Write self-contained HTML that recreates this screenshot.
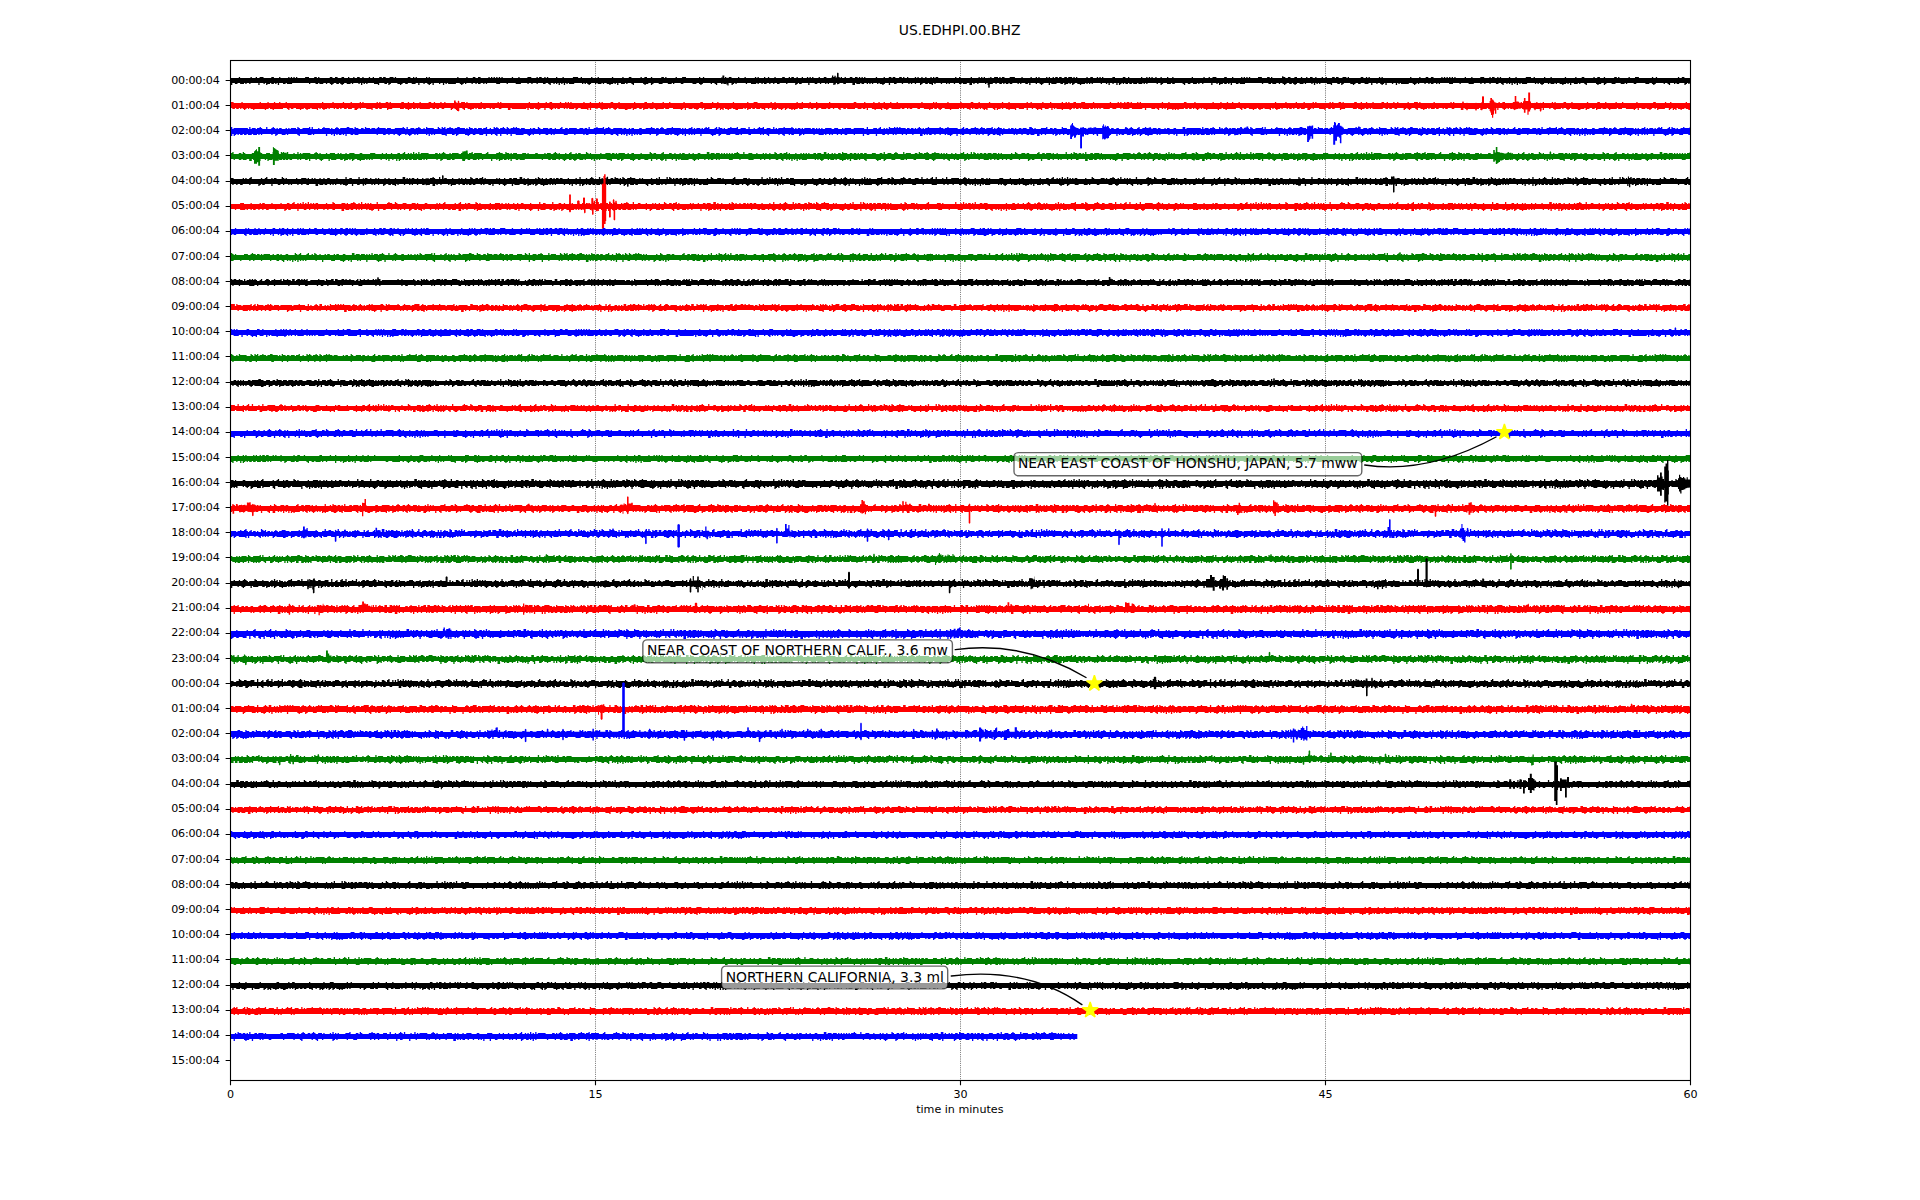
<!DOCTYPE html>
<html lang="en"><head><meta charset="utf-8"><title>US.EDHPI.00.BHZ</title>
<style>html,body{margin:0;padding:0;background:#fff}svg{display:block}text{font-family:'DejaVu Sans','Liberation Sans',sans-serif;fill:#000}.t8{font-size:11.11px}.t10{font-size:13.89px}path[class^=q]{fill:none;stroke-width:1}.q1{stroke-dasharray:2 21 1 4 1 23 1 8 1 28 2 12 1 31 1 8 1 5 1 11 1 5 1 5 1 21 1 5 1 1 1 31 1 17 1 20 1 5 1 8 1 40 1 7 1 14 1 12 1 7 1 8 1 13 1 7 1 2 1 7 1 13 1 67 1 6 1 3 1 18 1 15 1 5 1 11 1 8 1 4 1 37 1 11 1 11 1 48 1 9 1 33}.q2{stroke-dasharray:2 13 1 7 1 4 1 4 1 18 1 8 1 1 1 8 1 9 1 7 2 4 1 7 1 9 1 18 1 2 1 8 1 5 1 8 1 2 1 1 1 3 1 5 2 7 1 12 1 5 1 1 1 4 1 2 1 4 1 1 1 16 1 17 1 20 1 5 1 4 1 3 1 32 1 7 1 7 1 14 1 10 1 1 1 5 1 1 1 8 1 4 1 8 1 7 1 2 1 7 1 7 1 5 1 57 1 9 1 6 1 3 1 1 1 1 1 14 1 6 1 8 1 5 1 11 1 8 1 4 1 7 1 4 1 23 2 11 1 11 1 15 1 32 1 3 1 5 1 4 1 28}.q3{stroke-dasharray:2 6 1 6 1 3 1 3 1 4 1 4 1 18 1 8 1 1 1 8 1 9 1 7 2 4 1 7 1 9 1 4 1 13 1 2 1 8 1 5 1 8 1 2 1 1 1 3 2 4 3 6 1 12 1 5 1 1 1 2 1 1 2 1 1 4 1 1 1 16 1 4 1 11 2 6 1 13 1 5 1 4 1 3 1 4 1 27 1 7 1 7 1 5 1 6 1 1 1 10 1 1 1 4 2 1 1 8 2 3 1 3 1 4 1 6 2 2 1 4 1 2 1 7 1 4 3 1 1 10 1 12 1 1 1 21 1 6 1 5 1 2 2 6 1 3 1 1 1 1 1 9 1 4 1 6 1 1 1 6 2 4 1 11 1 7 2 4 1 7 1 4 1 10 1 12 2 7 1 3 1 11 1 10 1 4 3 10 1 2 1 16 1 3 1 5 1 4 1 9 1 18}.q4{stroke-dasharray:2 3 1 1 2 2 1 3 1 3 1 1 1 1 1 4 1 3 2 14 1 3 2 2 1 2 1 1 1 1 1 8 1 9 2 2 1 3 2 1 1 2 1 7 1 2 1 6 1 1 1 2 1 13 1 2 1 8 1 5 1 1 1 1 1 4 1 2 3 3 2 4 3 6 1 6 1 3 1 1 1 5 1 1 1 2 1 1 2 1 2 3 1 1 1 3 1 9 1 2 2 3 1 11 2 6 1 3 1 9 1 5 1 4 1 3 1 4 1 18 1 8 1 6 3 6 1 5 1 6 1 1 1 10 3 4 2 1 1 8 2 3 1 3 2 3 1 6 2 2 1 4 1 2 1 5 1 1 2 3 3 1 1 10 1 2 1 1 1 7 1 1 1 21 1 6 1 5 1 2 2 6 1 3 1 1 1 1 1 1 1 7 1 4 1 6 1 1 1 6 2 2 1 1 1 6 1 4 1 7 4 2 1 7 1 4 1 10 1 12 2 7 1 2 2 11 1 10 1 4 3 10 1 2 1 16 1 3 1 5 1 4 1 9 1 4 1 2 1 10}.q5{stroke-dasharray:2 3 1 1 2 2 1 3 1 3 1 1 1 1 1 4 1 3 2 4 1 4 1 1 1 2 1 3 2 2 2 1 1 1 1 1 1 8 1 5 1 3 2 1 2 3 2 1 1 2 1 5 1 1 1 2 1 2 1 3 1 1 1 1 2 13 1 2 1 8 1 5 1 1 1 1 1 4 1 2 3 1 1 1 2 4 4 5 1 6 1 3 1 1 1 5 1 1 1 2 1 1 2 1 2 2 2 1 3 1 1 1 1 7 1 2 2 3 1 1 1 1 1 7 2 6 2 2 1 9 1 3 1 1 1 1 1 2 1 3 1 4 1 3 1 14 1 8 1 3 1 2 3 6 2 4 1 6 1 1 1 1 1 1 1 6 3 4 2 1 1 8 2 2 2 3 2 3 1 3 1 2 2 2 1 4 1 2 1 4 2 1 2 3 3 1 1 9 2 2 1 1 1 7 1 1 1 21 1 6 1 4 2 2 2 6 1 1 1 1 1 1 1 1 1 1 1 7 1 4 1 6 3 4 1 1 2 2 1 1 1 6 1 4 1 7 4 2 1 7 1 4 1 10 1 7 1 4 2 7 1 2 2 3 1 7 2 1 1 7 1 4 3 10 1 2 1 16 1 2 2 5 1 4 1 7 1 1 1 4 1 2 1 4 1 5}.q6{stroke-dasharray:2 1 1 1 1 1 2 2 1 3 1 3 1 1 1 1 1 4 1 3 2 4 1 4 1 1 1 2 1 3 2 2 2 1 1 1 1 1 1 8 1 5 1 3 2 1 3 2 2 1 1 2 1 5 1 1 1 2 1 2 1 3 1 1 1 1 2 2 1 4 1 5 1 2 1 4 1 2 2 5 1 1 1 1 1 4 1 2 3 1 1 1 2 4 4 3 1 1 1 6 1 3 1 1 1 5 1 1 1 2 1 1 2 1 2 2 2 1 3 1 1 1 1 7 1 2 2 3 3 1 1 7 2 6 2 2 1 9 1 3 1 1 1 1 1 1 2 1 1 1 1 4 1 2 2 14 1 4 1 3 1 3 1 2 3 6 2 4 1 6 1 1 1 1 1 1 1 6 3 4 2 1 1 8 2 2 2 3 3 2 1 3 1 2 2 2 1 4 1 2 1 4 2 1 2 3 3 1 1 4 1 4 2 2 1 1 1 7 3 5 1 6 1 2 1 5 1 6 1 4 2 2 2 2 1 1 1 1 1 1 1 1 1 1 1 1 1 1 1 7 1 4 1 6 3 4 4 2 1 1 1 4 1 1 1 4 1 7 4 2 1 5 1 1 1 4 2 9 1 7 1 4 2 7 1 2 2 3 1 7 2 1 1 7 1 4 3 10 1 2 1 2 1 6 1 6 1 2 2 5 1 4 1 7 1 1 1 4 1 2 1 4 1 5}.q7{stroke-dasharray:2 1 1 1 1 1 2 2 1 3 1 3 1 1 4 3 1 3 2 4 1 4 1 1 1 2 1 3 2 2 2 1 3 1 1 8 1 1 1 3 1 3 2 1 3 2 2 1 1 2 1 5 1 1 2 1 1 2 1 2 2 1 1 1 2 1 2 4 1 5 1 2 1 4 1 2 3 4 1 1 1 1 2 3 2 1 3 1 1 1 2 2 6 3 1 1 1 6 1 3 1 1 1 5 1 1 2 1 1 1 2 1 2 1 3 1 3 1 1 1 1 7 1 2 2 3 3 1 1 7 2 6 3 1 1 9 1 3 1 1 1 1 1 1 2 1 1 1 1 3 2 1 3 14 1 4 2 2 1 3 1 2 3 3 1 1 3 2 1 1 1 6 1 1 1 1 1 1 1 5 4 4 2 1 2 5 4 2 2 3 3 2 1 3 1 2 2 2 1 4 1 2 1 3 6 3 3 1 1 4 1 4 2 2 1 1 1 7 3 5 1 6 1 1 2 5 1 6 1 4 2 2 2 2 1 1 1 1 1 1 1 1 1 1 1 1 1 1 2 6 1 4 2 5 3 1 1 2 4 2 1 1 1 2 1 1 1 1 1 4 1 7 4 2 2 4 3 4 3 1 1 5 2 7 1 1 1 2 2 7 1 2 2 3 1 1 2 4 2 1 1 7 1 3 4 1 1 2 1 1 1 3 1 2 1 2 2 5 1 6 1 2 2 5 1 4 2 2 1 3 1 1 1 4 1 2 1 4 1 5}.q8{stroke-dasharray:2 1 3 1 2 2 1 1 1 1 1 3 1 1 4 3 1 3 2 4 1 4 1 1 1 2 1 3 2 2 2 1 3 1 1 4 1 3 1 1 1 3 1 3 2 1 3 2 2 1 1 2 1 5 1 1 4 2 1 2 2 1 1 1 2 1 2 4 1 1 1 3 2 1 1 4 1 2 3 4 1 1 4 3 2 1 3 1 1 1 2 2 6 1 1 1 1 1 1 6 1 3 1 1 1 2 1 2 1 1 2 1 1 1 2 1 2 1 3 1 3 1 1 1 1 7 1 2 2 3 3 1 2 6 2 2 2 2 3 1 1 2 1 6 1 3 1 1 3 1 2 1 1 1 1 3 2 1 4 13 1 4 2 1 3 2 1 2 3 2 2 1 3 2 3 1 1 4 1 1 1 1 1 1 1 5 4 4 2 1 2 5 4 2 2 3 3 2 1 3 1 2 3 1 1 4 1 2 1 1 1 1 6 3 3 1 1 4 1 2 1 1 2 2 1 1 1 7 3 5 1 6 4 5 1 2 1 3 1 4 2 2 2 2 1 1 1 1 1 1 1 1 1 1 1 1 4 6 1 1 1 1 3 3 1 1 3 1 1 2 5 1 1 1 1 2 3 1 1 3 2 7 4 2 2 4 3 4 3 1 1 5 2 7 3 2 3 6 1 2 2 3 1 1 2 4 2 1 1 7 1 3 4 1 1 2 1 1 2 2 1 2 1 2 2 5 1 6 2 1 2 5 1 4 2 2 1 3 1 1 1 4 1 2 1 3 2 5}.q9{stroke-dasharray:2 1 3 1 3 1 1 1 1 1 1 1 1 1 1 1 4 3 1 3 3 3 1 4 1 1 1 2 1 3 2 2 2 1 3 1 1 4 1 3 1 1 1 1 1 1 1 3 2 1 3 2 2 1 1 2 1 1 1 2 2 1 4 2 2 1 2 1 1 1 2 1 2 4 3 3 2 1 1 2 3 2 3 4 1 1 4 3 2 1 3 1 4 2 6 1 1 1 1 1 1 3 1 2 1 3 3 2 1 2 1 1 2 1 1 1 2 1 2 1 3 1 3 1 1 1 1 7 1 2 2 3 3 1 2 6 2 2 2 1 4 1 1 2 1 6 1 3 1 1 3 1 2 1 1 1 1 3 2 1 4 1 1 11 2 3 6 2 1 2 3 2 2 1 3 2 3 1 1 4 1 1 1 1 1 1 1 5 4 4 2 1 2 5 5 1 2 3 3 2 1 3 1 2 3 1 1 4 1 2 1 1 1 1 6 3 3 1 1 4 1 2 4 2 1 1 1 3 1 2 4 4 2 6 4 5 1 2 1 3 1 4 2 2 2 2 1 1 1 1 1 1 1 1 1 1 6 5 2 1 1 1 3 3 1 1 5 2 5 1 3 1 6 3 2 6 5 2 3 1 1 1 3 4 3 1 1 5 2 5 1 1 3 2 3 1 1 4 1 2 2 3 1 1 2 4 2 1 1 7 1 3 4 1 2 1 1 1 5 2 1 2 2 5 1 6 2 1 2 4 2 4 2 2 1 3 1 1 2 3 1 2 1 3 2 5}.q10{stroke-dasharray:2 1 3 1 3 1 1 1 1 1 1 1 1 1 1 1 4 3 1 3 3 3 1 4 1 1 1 2 1 3 2 2 2 1 3 1 1 4 1 2 2 1 1 1 1 1 1 3 2 1 3 2 4 2 1 1 1 2 2 1 4 2 2 1 4 1 2 1 2 4 3 3 2 1 1 2 3 1 4 4 1 1 4 3 2 1 3 1 4 2 6 1 1 1 1 1 1 3 1 2 1 3 3 2 1 2 4 1 1 1 2 1 2 1 7 1 1 1 1 7 1 2 2 3 3 1 2 6 2 2 2 1 4 1 1 2 1 6 1 3 1 1 3 1 2 1 1 1 1 3 2 1 4 1 1 11 2 3 6 2 1 2 3 2 2 1 3 1 4 1 1 4 3 1 1 1 1 1 1 3 4 4 2 1 2 5 5 1 2 3 3 2 1 3 1 2 3 1 1 3 2 2 1 1 1 1 7 2 3 1 1 4 1 2 4 2 1 1 1 3 1 2 4 4 2 6 4 3 4 1 1 3 1 4 2 2 2 2 1 1 1 1 1 1 1 1 1 1 7 4 2 1 1 1 3 1 1 1 1 1 5 2 5 1 3 1 6 3 2 1 1 4 5 2 3 1 1 1 3 1 1 2 3 1 1 5 2 1 1 3 1 1 3 2 3 1 1 4 1 2 2 3 1 1 2 4 2 1 1 6 2 3 4 1 2 1 1 1 5 2 1 2 2 5 2 5 2 1 2 4 2 4 2 2 1 3 1 1 2 3 1 1 2 3 2 5}.q11{stroke-dasharray:2 1 3 1 3 1 1 1 1 1 1 1 3 1 4 3 1 3 3 3 2 3 1 1 1 2 1 1 1 1 2 2 6 1 1 4 1 2 2 1 1 1 1 1 1 3 2 1 9 2 3 2 2 1 4 1 3 1 4 1 2 1 3 3 4 2 2 1 1 2 3 1 4 4 1 1 4 3 2 1 3 1 5 1 6 1 1 1 1 1 3 1 2 1 2 2 3 2 1 2 4 1 1 1 2 1 2 1 7 1 1 1 1 7 1 2 2 3 3 1 2 6 2 2 2 1 4 1 1 2 1 4 1 1 1 3 1 1 3 1 2 1 1 1 1 3 2 1 4 1 1 5 2 4 2 3 6 2 1 2 3 2 2 1 3 1 4 1 1 4 3 1 1 1 3 3 4 4 2 1 2 5 5 1 2 2 4 2 1 3 1 2 3 1 1 2 3 2 1 1 1 1 7 2 3 1 1 4 1 1 5 2 1 1 1 3 1 2 5 3 2 6 4 3 4 1 2 2 1 4 2 2 2 2 1 1 1 1 1 1 1 1 1 1 7 2 1 1 2 1 1 1 3 1 1 1 1 1 5 2 5 1 3 1 6 3 2 1 2 2 6 2 3 1 5 1 1 2 3 1 1 3 1 1 2 1 1 3 1 1 3 2 3 1 1 4 1 2 2 3 1 1 2 4 2 1 1 6 3 2 4 1 2 1 1 1 5 2 1 2 2 1 1 3 2 5 2 1 2 4 2 2 1 1 2 2 1 3 1 1 2 3 1 1 2 3 2 5}.q12{stroke-dasharray:2 1 11 1 1 1 3 1 4 3 1 3 3 1 1 1 2 3 1 1 1 1 4 1 2 2 6 1 1 4 1 2 2 1 1 1 1 1 1 2 3 1 9 2 3 2 2 1 4 1 3 1 4 1 2 1 3 3 5 1 2 1 1 2 3 1 4 4 1 1 4 3 2 1 3 1 5 1 8 1 1 1 3 1 2 1 3 1 3 2 1 2 4 1 4 1 2 1 7 1 3 4 1 2 1 2 2 2 4 1 2 2 1 3 2 2 2 1 6 2 2 3 1 1 1 3 1 1 6 1 4 2 2 1 4 1 1 3 1 1 2 4 2 3 6 2 1 2 3 2 2 1 3 1 4 1 1 1 1 2 3 1 1 1 3 1 1 1 4 4 2 1 3 4 5 1 2 2 4 2 1 3 1 2 5 2 3 2 1 1 1 1 12 1 1 1 1 2 1 1 5 2 1 1 1 1 1 1 1 2 5 3 2 3 1 1 5 3 7 2 1 4 2 2 2 2 1 1 1 1 1 1 1 1 1 1 7 2 1 1 2 1 1 1 3 1 1 1 1 1 6 1 5 1 10 3 2 1 2 2 6 1 4 1 5 1 1 1 4 1 1 3 1 1 2 1 1 2 2 1 3 2 3 1 1 4 2 1 2 3 1 1 2 4 4 6 3 2 4 1 2 1 1 1 5 1 2 2 2 1 2 2 2 5 2 1 3 3 2 2 5 1 1 1 3 1 2 3 1 1 2 3 2 5}.q13{stroke-dasharray:2 1 11 1 1 1 3 1 4 3 1 3 3 1 1 1 2 3 1 1 1 1 4 1 2 2 6 1 1 4 1 2 6 1 1 2 3 1 10 1 3 2 2 1 4 1 3 1 7 1 3 3 8 1 1 2 3 1 4 2 1 1 6 3 2 1 3 1 5 1 8 1 1 1 3 1 2 1 3 1 3 2 1 2 4 1 4 1 2 1 7 1 3 4 1 1 2 2 2 2 4 1 2 2 1 3 2 2 2 1 6 2 3 1 2 1 1 3 8 1 4 2 7 1 2 2 1 1 2 4 2 3 7 1 2 1 3 2 11 1 1 1 1 2 3 1 1 1 3 1 1 1 4 4 2 1 3 1 1 2 8 2 4 2 1 3 1 2 5 2 3 2 1 1 1 1 12 1 1 1 2 1 1 1 5 1 2 1 1 1 1 1 1 2 5 2 3 3 1 1 5 2 8 2 1 4 3 1 2 2 1 1 1 1 13 1 2 1 2 1 1 1 3 1 1 1 14 1 10 3 2 1 2 2 6 1 4 1 5 1 1 1 4 1 1 3 1 1 2 1 1 2 2 1 3 2 3 1 1 4 5 2 2 1 2 4 4 6 3 1 5 1 2 1 1 1 8 2 2 1 2 2 2 5 2 1 3 3 2 2 5 1 1 1 3 1 2 3 1 1 2 3 2 5}.q14{stroke-dasharray:2 1 11 1 1 1 3 1 4 3 1 3 3 1 1 1 2 3 1 1 1 1 4 1 2 2 6 1 1 4 2 1 6 1 1 1 4 1 10 1 3 2 2 1 16 1 5 1 8 1 1 1 4 1 4 1 2 1 6 3 2 1 3 1 5 1 8 1 1 1 6 1 3 1 4 1 1 1 5 1 4 1 2 1 7 1 3 4 1 1 2 2 2 2 4 1 6 2 2 2 9 2 3 1 2 1 1 2 9 1 4 2 10 2 1 1 3 3 2 3 7 1 2 1 4 1 11 1 3 2 3 1 1 1 3 1 1 1 4 1 1 2 8 2 14 2 1 3 1 2 5 1 4 2 1 1 1 1 12 1 4 1 1 1 5 1 2 1 3 1 1 2 5 2 3 1 3 1 5 2 8 2 1 4 3 1 2 2 1 1 1 1 16 1 4 1 3 1 1 1 14 1 10 3 2 1 3 1 6 1 4 1 5 1 1 1 4 1 1 2 5 1 1 2 6 2 5 2 8 1 2 1 2 4 4 6 3 1 5 1 2 1 10 2 2 1 2 2 2 4 3 1 3 3 3 1 5 1 1 1 6 3 1 1 2 3 2 5}.q15{stroke-dasharray:2 1 11 1 1 1 8 2 2 3 3 1 5 2 1 1 1 1 4 1 2 2 8 4 2 1 6 1 1 1 4 1 10 1 3 2 2 1 16 1 5 1 20 1 2 1 6 1 1 1 2 1 3 1 5 1 8 1 1 1 6 1 3 1 4 1 1 1 5 1 4 1 2 1 11 4 1 1 3 1 2 2 4 1 6 2 2 2 10 1 3 1 4 2 9 1 4 2 11 1 1 1 3 1 1 1 4 1 10 1 4 1 11 1 3 2 3 1 1 1 3 1 1 1 6 2 8 2 14 2 1 3 1 2 5 1 7 1 1 1 12 1 4 1 7 1 2 1 3 1 1 1 6 1 4 1 3 1 5 1 9 2 1 4 3 1 2 2 1 1 1 1 16 1 4 1 3 1 1 1 14 1 11 2 2 1 3 1 6 1 4 1 5 1 6 1 1 2 5 1 1 1 7 2 5 2 8 1 2 1 2 4 4 1 1 2 1 1 3 1 8 1 10 2 2 1 2 2 2 4 7 2 4 1 5 1 1 1 6 3 1 1 2 3 2 1 1 1 1 1}.q16{stroke-dasharray:2 1 11 1 1 1 8 2 2 2 4 1 5 2 1 1 1 1 4 1 2 2 8 2 11 1 6 1 15 1 2 1 16 1 26 1 2 1 6 1 1 1 6 1 14 1 1 1 15 1 1 1 5 1 4 1 2 1 11 4 1 1 3 1 8 1 6 2 2 2 10 1 8 2 27 1 1 1 3 1 1 1 4 1 15 1 15 1 6 1 3 1 1 1 16 2 14 2 1 2 2 2 5 1 7 1 1 1 12 1 4 1 7 1 2 1 5 1 6 1 4 1 9 1 9 2 1 1 1 2 3 1 2 2 1 1 1 1 16 1 4 1 3 1 1 1 14 1 11 2 6 1 6 1 4 1 14 1 6 1 1 1 7 2 6 1 8 1 2 1 2 1 1 2 4 1 2 1 1 1 3 1 8 1 10 2 9 3 9 1 4 1 5 1 1 1 6 3 1 1 2 3 2 1 1 1 1 1}.q17{stroke-dasharray:14 1 1 1 8 2 2 2 4 1 8 1 6 1 2 1 9 2 11 1 6 1 15 1 2 1 16 1 26 1 2 1 6 1 23 1 1 1 15 1 12 1 2 1 11 4 1 1 12 1 6 2 2 2 10 1 8 2 29 1 3 1 1 1 20 1 15 1 6 1 5 1 16 2 14 2 1 2 2 1 6 1 9 1 12 1 4 1 7 1 8 1 21 1 9 2 1 1 9 2 20 1 4 1 3 1 16 1 11 2 13 1 19 1 6 1 1 1 8 1 6 1 8 1 2 1 4 2 4 1 2 1 1 1 3 1 8 1 10 2 10 2 9 1 4 1 14 3 1 1 2 3 2 1 1 1 1 1}.q18{stroke-dasharray:14 1 1 1 8 2 2 1 21 1 2 1 9 2 11 1 6 1 15 1 46 1 2 1 6 1 23 1 30 1 2 1 11 4 1 1 12 1 7 1 2 2 10 1 8 1 30 1 3 1 1 1 20 1 15 1 6 1 22 2 15 1 1 2 2 1 6 1 9 1 17 1 7 1 8 1 31 2 1 1 9 2 25 1 3 1 28 2 13 1 19 1 8 1 8 1 6 1 8 1 7 1 8 1 1 1 3 1 8 1 10 2 21 1 21 1 1 1 3 2 2 1 1 1 1 1}.q19{stroke-dasharray:14 1 1 1 8 2 24 1 2 1 9 1 12 1 6 1 15 1 80 1 30 1 14 2 16 1 22 1 39 1 3 1 45 1 23 1 21 1 6 1 44 1 31 1 43 1 63 1 8 1 15 1 8 1 18 1 12 1 10 2 21 1 27 2 6 1}</style>
</head><body>
<svg width="1920" height="1200" viewBox="0 0 1920 1200">
<rect width="1920" height="1200" fill="#fff"/>
<text class="t10" x="959.6" y="35.3" text-anchor="middle">US.EDHPI.00.BHZ</text>
<g stroke="#000" stroke-width="0.69" stroke-dasharray="0.69 1.15" fill="none"><line x1="595.5" y1="1080.5" x2="595.5" y2="60.5"/><line x1="960.5" y1="1080.5" x2="960.5" y2="60.5"/><line x1="1325.5" y1="1080.5" x2="1325.5" y2="60.5"/></g>
<g fill="#000000" stroke="#000000"><path stroke="none" d="M231 78H1690.0V83H231ZM721.0 77.4H722.4V82.3H721.0ZM722.4 75.5H724.3V83.6H722.4ZM724.3 78.1H725.3V82.7H724.3ZM725.3 78.2H726.3V82.6H725.3ZM726.3 78.6H727.4V84.4H726.3ZM727.4 77.8H728.6V85.5H727.4ZM728.6 78.3H729.0V81.6H728.6ZM832.0 75.5H833.3V83.1H832.0ZM833.3 77.1H834.4V85.0H833.3ZM834.4 75.7H835.7V84.4H834.4ZM835.7 77.4H836.8V82.9H835.7ZM836.8 76.5H838.4V83.1H836.8ZM838.4 77.4H840.0V81.7H838.4ZM837.0 73.3L837.8 72.5L838.6 73.3L838.6 83.7L837.8 84.5L837.0 83.7ZM988.2 78.3L989.0 77.5L989.8 78.3L989.8 87.2L989.0 88.0L988.2 87.2ZM1282.0 76.8L1282.8 76.0L1283.6 76.8L1283.6 82.7L1282.8 83.5L1282.0 82.7Z"/><g transform="translate(231 0) scale(1.3 1)"><path class="q5" stroke-dashoffset="309" d="M0 77.5H1122.3"/><path class="q8" stroke-dashoffset="255" d="M0 83.5H1122.3"/><path class="q1" stroke-dashoffset="255" d="M0 84.5H1122.3"/></g></g>
<g fill="#ff0000" stroke="#ff0000"><path stroke="none" d="M231 103H1690.0V108H231ZM454.0 100.6H455.7V108.2H454.0ZM455.7 102.6H456.9V107.5H455.7ZM456.9 103.7H458.6V111.1H456.9ZM458.6 103.3H460.2V107.9H458.6ZM460.2 104.4H461.9V107.5H460.2ZM1489.6 101.1H1490.3V111.1H1489.6ZM1490.3 98.1H1491.0V112.6H1490.3ZM1491.0 98.1H1492.0V115.1H1491.0ZM1492.0 99.4H1493.2V117.8H1492.0ZM1493.2 100.6H1494.0V114.6H1493.2ZM1494.0 101.8H1494.8V110.6H1494.0ZM1494.9 102.6H1496.3V113.8H1494.9ZM1513.0 102.0H1514.7V109.0H1513.0ZM1514.7 96.0H1516.3V109.6H1514.7ZM1516.3 101.4H1518.6V109.0H1516.3ZM1523.0 101.2H1523.9V109.6H1523.0ZM1523.9 98.1H1525.5V112.7H1523.9ZM1525.5 101.0H1527.4V109.6H1525.5ZM1527.4 101.0H1528.6V114.8H1527.4ZM1528.2 92.5H1530.1V111.6H1528.2ZM1530.1 101.6H1531.0V109.6H1530.1ZM457.7 101.4L458.5 100.6L459.3 101.4L459.3 110.8L458.5 111.6L457.7 110.8ZM1462.2 102.0L1463.0 101.2L1463.8 102.0L1463.8 107.8L1463.0 108.6L1462.2 107.8ZM1466.2 103.4L1467.0 102.6L1467.8 103.4L1467.8 109.8L1467.0 110.6L1466.2 109.8ZM1475.2 103.4L1476.0 102.6L1476.8 103.4L1476.8 110.0L1476.0 110.8L1475.2 110.0ZM1481.0 103.4L1481.8 102.6L1482.6 103.4L1482.6 109.8L1481.8 110.6L1481.0 109.8ZM1482.0 96.8L1483.0 96.0L1484.0 96.8L1484.0 108.3L1483.0 109.1L1482.0 108.3ZM1513.6 103.4L1514.4 102.6L1515.2 103.4L1515.2 109.4L1514.4 110.2L1513.6 109.4ZM1534.2 103.4L1535.0 102.6L1535.8 103.4L1535.8 109.6L1535.0 110.4L1534.2 109.6ZM1539.8 103.4L1540.6 102.6L1541.4 103.4L1541.4 110.9L1540.6 111.7L1539.8 110.9Z"/><g transform="translate(231 0) scale(1.3 1)"><path class="q3" stroke-dashoffset="254" d="M0 102.5H1122.3"/><path class="q13" stroke-dashoffset="520" d="M0 108.5H1122.3"/><path class="q2" stroke-dashoffset="520" d="M0 109.5H1122.3"/></g></g>
<g fill="#0000ff" stroke="#0000ff"><path stroke="none" d="M231 129H1690.0V134H231ZM1084.0 129.1H1085.2V131.8H1084.0ZM1085.2 129.1H1086.6V132.3H1085.2ZM1086.6 129.0H1088.4V135.0H1086.6ZM1088.4 127.7H1089.9V133.0H1088.4ZM1089.9 127.6H1091.6V133.9H1089.9ZM1091.6 128.3H1093.3V133.9H1091.6ZM1093.3 127.4H1094.4V132.9H1093.3ZM1094.4 127.2H1096.2V133.9H1094.4ZM1096.2 129.2H1097.8V134.4H1096.2ZM1097.8 129.3H1099.5V133.1H1097.8ZM1099.5 129.7H1100.8V133.6H1099.5ZM1100.8 129.2H1102.0V131.9H1100.8ZM1146.0 128.6H1147.0V133.2H1146.0ZM1147.0 128.6H1148.7V133.3H1147.0ZM1148.7 127.6H1149.8V134.4H1148.7ZM1149.8 127.2H1151.0V133.1H1149.8ZM1151.0 129.5H1152.0V132.2H1151.0ZM1219.0 128.5H1220.1V133.2H1219.0ZM1220.1 128.5H1221.6V131.9H1220.1ZM1221.6 128.0H1222.8V133.1H1221.6ZM1222.8 129.5H1224.0V132.3H1222.8ZM1224.0 129.4H1225.2V133.5H1224.0ZM1225.2 129.5H1226.6V132.2H1225.2ZM1226.6 128.2H1228.1V133.7H1226.6ZM1228.1 129.2H1229.4V134.1H1228.1ZM1229.4 128.2H1231.2V133.1H1229.4ZM1231.2 128.7H1232.5V133.3H1231.2ZM1232.5 128.0H1234.2V133.0H1232.5ZM1234.2 127.9H1235.7V135.2H1234.2ZM1235.7 129.2H1237.0V134.4H1235.7ZM1237.0 127.9H1238.5V133.3H1237.0ZM1238.5 128.6H1240.1V133.1H1238.5ZM1240.1 127.1H1241.9V132.8H1240.1ZM1241.9 128.8H1243.1V133.0H1241.9ZM1243.1 129.0H1244.6V132.2H1243.1ZM1244.6 127.6H1246.5V132.2H1244.6ZM1246.5 126.6H1248.2V131.9H1246.5ZM1248.2 129.3H1249.4V131.9H1248.2ZM1249.4 129.8H1250.7V133.1H1249.4ZM1299.0 129.8H1300.8V135.3H1299.0ZM1300.8 127.2H1302.2V134.9H1300.8ZM1302.2 127.7H1303.3V133.7H1302.2ZM1303.3 128.3H1304.9V133.2H1303.3ZM1304.9 128.8H1306.0V132.6H1304.9ZM1070.1 125.5H1071.2V139.0H1070.1ZM1071.2 124.3H1072.0V139.0H1071.2ZM1072.0 123.0H1073.0V136.8H1072.0ZM1073.0 125.4H1074.0V135.8H1073.0ZM1074.0 126.4H1075.0V137.8H1074.0ZM1075.0 127.2H1076.0V137.4H1075.0ZM1076.0 127.8H1077.0V135.3H1076.0ZM1081.9 127.8H1084.0V136.6H1081.9ZM1102.2 125.8H1103.0V139.2H1102.2ZM1103.0 124.2H1103.9V138.8H1103.0ZM1103.9 126.8H1104.8V139.4H1103.9ZM1104.8 125.4H1105.8V139.2H1104.8ZM1105.8 126.8H1107.0V138.2H1105.8ZM1107.0 126.0H1108.2V138.4H1107.0ZM1108.2 126.4H1109.0V138.0H1108.2ZM1307.1 126.2H1308.9V142.0H1307.1ZM1308.9 125.8H1309.8V140.3H1308.9ZM1309.8 125.8H1310.6V138.8H1309.8ZM1310.6 126.2H1311.6V136.3H1310.6ZM1311.6 125.6H1313.2V138.8H1311.6ZM1333.2 125.3H1334.0V144.8H1333.2ZM1334.0 122.1H1335.2V144.8H1334.0ZM1335.2 122.8H1336.0V140.8H1335.2ZM1336.0 125.4H1337.0V140.8H1336.0ZM1337.0 124.4H1338.0V136.8H1337.0ZM1338.0 123.0H1339.0V136.8H1338.0ZM1339.0 123.0H1339.9V137.8H1339.0ZM1339.9 125.8H1341.4V143.2H1339.9ZM1341.4 126.6H1342.4V134.8H1341.4ZM1342.4 127.3H1343.4V134.3H1342.4ZM1080.1 128.1L1081.0 127.3L1082.0 128.1L1082.0 148.0L1081.0 148.8L1080.1 148.0ZM1124.8 127.9L1125.6 127.1L1126.4 127.9L1126.4 133.0L1125.6 133.8L1124.8 133.0ZM1126.7 128.6L1127.5 127.8L1128.3 128.6L1128.3 134.4L1127.5 135.2L1126.7 134.4ZM1357.9 127.1L1358.9 126.3L1359.9 127.1L1359.9 133.0L1358.9 133.8L1357.9 133.0Z"/><g transform="translate(231 0) scale(1.3 1)"><path class="q13" stroke-dashoffset="1" d="M0 128.5H1122.3"/><path class="q2" stroke-dashoffset="1" d="M0 127.5H1122.3"/><path class="q7" stroke-dashoffset="203" d="M0 134.5H1122.3"/><path class="q1" stroke-dashoffset="203" d="M0 135.5H1122.3"/></g></g>
<g fill="#008000" stroke="#008000"><path stroke="none" d="M231 154H1690.0V159H231ZM279.0 154.9H280.8V157.0H279.0ZM280.8 152.1H282.3V160.1H280.8ZM282.3 153.1H283.4V157.5H282.3ZM283.4 153.1H285.0V159.9H283.4ZM285.0 152.7H286.8V157.3H285.0ZM286.8 154.5H288.5V157.6H286.8ZM288.5 154.7H289.0V156.9H288.5ZM456.0 154.6H457.9V157.6H456.0ZM457.9 153.7H459.2V159.0H457.9ZM459.2 154.1H461.0V157.9H459.2ZM461.0 153.5H462.3V157.9H461.0ZM462.3 151.5H464.0V160.9H462.3ZM464.0 151.2H465.8V159.4H464.0ZM465.8 150.4H467.7V157.9H465.8ZM467.7 154.6H468.0V158.2H467.7ZM1502.0 154.5H1503.1V157.7H1502.0ZM1503.1 153.6H1504.1V158.6H1503.1ZM1504.1 153.6H1505.9V158.1H1504.1ZM1505.9 154.6H1507.7V159.1H1505.9ZM1507.7 154.8H1509.6V158.7H1507.7ZM1509.6 152.7H1511.4V160.1H1509.6ZM1511.4 154.9H1513.0V157.0H1511.4ZM254.0 151.3H255.0V163.8H254.0ZM255.0 150.3H256.0V163.8H255.0ZM256.0 149.2H257.0V163.8H256.0ZM257.0 151.3H258.2V162.3H257.0ZM258.2 146.9H260.1V165.8H258.2ZM260.1 151.9H260.6V160.9H260.1ZM272.9 147.1H273.8V165.0H272.9ZM273.8 147.9H274.8V165.0H273.8ZM274.8 148.7H275.8V160.8H274.8ZM275.8 149.4H276.8V160.8H275.8ZM276.8 150.1H277.8V160.8H276.8ZM277.8 150.8H278.8V160.8H277.8ZM1493.2 150.1H1494.8V161.8H1493.2ZM1494.8 152.4H1495.8V160.4H1494.8ZM1495.8 147.1H1497.4V164.0H1495.8ZM1497.4 151.9H1498.6V162.9H1497.4ZM1498.6 152.3H1500.0V161.9H1498.6ZM1500.0 152.7H1502.3V160.5H1500.0ZM1549.6 152.1L1550.4 151.3L1551.2 152.1L1551.2 158.1L1550.4 158.9L1549.6 158.1ZM1193.2 153.7L1194.0 152.9L1194.8 153.7L1194.8 160.1L1194.0 160.9L1193.2 160.1Z"/><g transform="translate(231 0) scale(1.3 1)"><path class="q9" stroke-dashoffset="367" d="M0 153.5H1122.3"/><path class="q1" stroke-dashoffset="367" d="M0 152.5H1122.3"/><path class="q8" stroke-dashoffset="76" d="M0 159.5H1122.3"/><path class="q1" stroke-dashoffset="76" d="M0 160.5H1122.3"/></g></g>
<g fill="#000000" stroke="#000000"><path stroke="none" d="M231 179H1690.0V184H231ZM1391.0 176.5H1392.8V184.8H1391.0ZM1392.8 179.3H1394.1V183.1H1392.8ZM1394.1 178.6H1395.4V183.3H1394.1ZM1395.4 178.6H1397.0V186.0H1395.4ZM1626.0 179.8H1627.9V183.8H1626.0ZM1627.9 176.4H1629.0V184.1H1627.9ZM1629.0 179.0H1630.3V187.3H1629.0ZM1630.3 177.0H1631.7V183.4H1630.3ZM1631.7 179.9H1632.9V185.0H1631.7ZM442.0 175.8L442.8 175.0L443.6 175.8L443.6 183.2L442.8 184.0L442.0 183.2ZM362.6 178.8L363.4 178.0L364.2 178.8L364.2 185.2L363.4 186.0L362.6 185.2ZM425.4 178.8L426.2 178.0L427.0 178.8L427.0 184.7L426.2 185.5L425.4 184.7ZM627.0 178.8L627.8 178.0L628.6 178.8L628.6 186.2L627.8 187.0L627.0 186.2ZM606.5 177.3L607.3 176.5L608.1 177.3L608.1 183.2L607.3 184.0L606.5 183.2ZM1393.0 176.8L1393.8 176.0L1394.5 176.8L1394.5 192.0L1393.8 192.8L1393.0 192.0ZM1299.2 178.8L1300.0 178.0L1300.8 178.8L1300.8 185.2L1300.0 186.0L1299.2 185.2Z"/><g transform="translate(231 0) scale(1.3 1)"><path class="q7" stroke-dashoffset="601" d="M0 178.5H1122.3"/><path class="q1" stroke-dashoffset="601" d="M0 177.5H1122.3"/><path class="q8" stroke-dashoffset="668" d="M0 184.5H1122.3"/><path class="q1" stroke-dashoffset="668" d="M0 185.5H1122.3"/></g></g>
<g fill="#ff0000" stroke="#ff0000"><path stroke="none" d="M231 204H1690.0V209H231ZM568.0 205.0H569.6V207.9H568.0ZM569.6 204.4H570.8V207.7H569.6ZM570.8 204.8H572.3V207.5H570.8ZM572.3 205.1H573.3V207.7H572.3ZM573.3 204.7H574.4V207.3H573.3ZM574.4 204.9H576.0V208.2H574.4ZM576.0 205.1H577.3V208.3H576.0ZM577.3 205.1H579.0V207.3H577.3ZM579.0 204.0H580.8V208.8H579.0ZM580.8 204.7H582.5V209.5H580.8ZM582.5 203.9H584.2V209.6H582.5ZM584.2 204.3H586.0V207.5H584.2ZM586.0 202.9H587.6V207.5H586.0ZM587.6 203.5H588.9V208.8H587.6ZM588.9 203.7H590.7V207.7H588.9ZM590.7 205.0H592.3V209.6H590.7ZM592.3 203.0H593.6V207.6H592.3ZM593.6 205.0H595.3V209.6H593.6ZM595.3 204.3H597.0V208.6H595.3ZM597.0 204.6H598.2V210.1H597.0ZM598.2 204.9H599.6V208.8H598.2ZM599.6 204.6H601.0V208.0H599.6ZM601.0 203.3H602.9V209.9H601.0ZM602.9 205.1H604.2V207.6H602.9ZM604.2 204.7H606.0V207.5H604.2ZM606.0 205.0H607.8V208.3H606.0ZM607.8 205.1H609.2V207.8H607.8ZM609.2 204.6H610.9V208.9H609.2ZM610.9 205.1H611.9V207.8H610.9ZM611.9 204.9H613.5V207.5H611.9ZM613.5 204.2H615.2V208.1H613.5ZM615.2 204.5H616.3V207.9H615.2ZM616.3 204.6H618.0V207.7H616.3ZM618.0 204.6H619.4V208.3H618.0ZM619.4 205.1H620.0V207.1H619.4ZM601.9 183.7H603.4V228.7H601.9ZM603.4 176.1H604.1V228.7H603.4ZM604.1 174.3H605.6V224.0H604.1ZM605.6 184.1H606.2V221.1H605.6ZM569.1 194.9L570.0 194.1L570.9 194.9L570.9 211.7L570.0 212.5L569.1 211.7ZM577.1 201.1L578.4 200.3L579.6 201.1L579.6 208.8L578.4 209.6L577.1 208.8ZM583.0 198.0L584.0 197.2L585.0 198.0L585.0 209.3L584.0 210.1L583.0 209.3ZM584.0 203.9L584.8 203.1L585.6 203.9L585.6 212.6L584.8 213.4L584.0 212.6ZM591.3 198.6L592.3 197.8L593.3 198.6L593.3 210.3L592.3 211.1L591.3 210.3ZM592.0 203.9L592.8 203.1L593.6 203.9L593.6 214.2L592.8 215.0L592.0 214.2ZM593.6 201.4L594.4 200.6L595.2 201.4L595.2 209.3L594.4 210.1L593.6 209.3ZM595.9 198.9L596.9 198.1L597.9 198.9L597.9 210.7L596.9 211.5L595.9 210.7ZM609.0 202.0L609.9 201.2L610.8 202.0L610.8 217.0L609.9 217.8L609.0 217.0ZM612.8 199.9L613.6 199.1L614.4 199.9L614.4 210.3L613.6 211.1L612.8 210.3ZM613.6 202.9L614.4 202.1L615.2 202.9L615.2 219.8L614.4 220.6L613.6 219.8ZM615.2 201.4L616.0 200.6L616.8 201.4L616.8 209.3L616.0 210.1L615.2 209.3Z"/><g transform="translate(231 0) scale(1.3 1)"><path class="q7" stroke-dashoffset="452" d="M0 203.5H1122.3"/><path class="q1" stroke-dashoffset="452" d="M0 202.5H1122.3"/><path class="q8" stroke-dashoffset="648" d="M0 209.5H1122.3"/><path class="q1" stroke-dashoffset="648" d="M0 210.5H1122.3"/></g></g>
<g fill="#0000ff" stroke="#0000ff"><path stroke="none" d="M231 229H1690.0V234H231Z"/><g transform="translate(231 0) scale(1.3 1)"><path class="q5" stroke-dashoffset="701" d="M0 228.5H1122.3"/><path class="q11" stroke-dashoffset="244" d="M0 234.5H1122.3"/><path class="q2" stroke-dashoffset="244" d="M0 235.5H1122.3"/></g></g>
<g fill="#008000" stroke="#008000"><path stroke="none" d="M231 255H1690.0V260H231ZM929.5 254.2L930.3 253.4L931.1 254.2L931.1 260.6L930.3 261.4L929.5 260.6ZM1399.2 252.7L1400.0 251.9L1400.8 252.7L1400.8 258.6L1400.0 259.4L1399.2 258.6Z"/><g transform="translate(231 0) scale(1.3 1)"><path class="q11" stroke-dashoffset="640" d="M0 254.5H1122.3"/><path class="q2" stroke-dashoffset="640" d="M0 253.5H1122.3"/><path class="q6" stroke-dashoffset="460" d="M0 260.5H1122.3"/><path class="q1" stroke-dashoffset="460" d="M0 261.5H1122.3"/></g></g>
<g fill="#000000" stroke="#000000"><path stroke="none" d="M231 281H1690.0V285H231ZM1107.0 280.2H1108.8V286.0H1107.0ZM1108.8 277.0H1110.4V283.1H1108.8ZM1110.4 278.8H1111.6V284.7H1110.4ZM1111.6 279.3H1113.0V283.7H1111.6ZM377.2 277.8L378.0 277.0L378.8 277.8L378.8 283.7L378.0 284.5L377.2 283.7Z"/><g transform="translate(231 0) scale(1.3 1)"><path class="q17" stroke-dashoffset="5" d="M0 280.5H1122.3"/><path class="q5" stroke-dashoffset="5" d="M0 279.5H1122.3"/><path class="q5" stroke-dashoffset="558" d="M0 285.5H1122.3"/></g></g>
<g fill="#ff0000" stroke="#ff0000"><path stroke="none" d="M231 306H1690.0V310H231Z"/><g transform="translate(231 0) scale(1.3 1)"><path class="q16" stroke-dashoffset="431" d="M0 305.5H1122.3"/><path class="q4" stroke-dashoffset="431" d="M0 304.5H1122.3"/><path class="q8" stroke-dashoffset="646" d="M0 310.5H1122.3"/><path class="q1" stroke-dashoffset="646" d="M0 311.5H1122.3"/></g></g>
<g fill="#0000ff" stroke="#0000ff"><path stroke="none" d="M231 330H1690.0V335H231ZM1674.6 328.1L1675.4 327.3L1676.2 328.1L1676.2 334.0L1675.4 334.8L1674.6 334.0Z"/><g transform="translate(231 0) scale(1.3 1)"><path class="q5" stroke-dashoffset="242" d="M0 329.5H1122.3"/><path class="q12" stroke-dashoffset="391" d="M0 335.5H1122.3"/><path class="q2" stroke-dashoffset="391" d="M0 336.5H1122.3"/></g></g>
<g fill="#008000" stroke="#008000"><path stroke="none" d="M231 356H1690.0V361H231Z"/><g transform="translate(231 0) scale(1.3 1)"><path class="q13" stroke-dashoffset="145" d="M0 355.5H1122.3"/><path class="q2" stroke-dashoffset="145" d="M0 354.5H1122.3"/><path class="q4" stroke-dashoffset="223" d="M0 361.5H1122.3"/></g></g>
<g fill="#000000" stroke="#000000"><path stroke="none" d="M231 381H1690.0V385H231ZM1273.2 378.8L1274.0 378.0L1274.8 378.8L1274.8 384.2L1274.0 385.0L1273.2 384.2Z"/><g transform="translate(231 0) scale(1.3 1)"><path class="q11" stroke-dashoffset="69" d="M0 380.5H1122.3"/><path class="q1" stroke-dashoffset="69" d="M0 379.5H1122.3"/><path class="q12" stroke-dashoffset="67" d="M0 385.5H1122.3"/><path class="q2" stroke-dashoffset="67" d="M0 386.5H1122.3"/></g></g>
<g fill="#ff0000" stroke="#ff0000"><path stroke="none" d="M231 406H1690.0V410H231Z"/><g transform="translate(231 0) scale(1.3 1)"><path class="q7" stroke-dashoffset="394" d="M0 405.5H1122.3"/><path class="q1" stroke-dashoffset="394" d="M0 404.5H1122.3"/><path class="q16" stroke-dashoffset="593" d="M0 410.5H1122.3"/><path class="q4" stroke-dashoffset="593" d="M0 411.5H1122.3"/></g></g>
<g fill="#0000ff" stroke="#0000ff"><path stroke="none" d="M231 431H1690.0V436H231Z"/><g transform="translate(231 0) scale(1.3 1)"><path class="q7" stroke-dashoffset="303" d="M0 430.5H1122.3"/><path class="q1" stroke-dashoffset="303" d="M0 429.5H1122.3"/><path class="q6" stroke-dashoffset="366" d="M0 436.5H1122.3"/><path class="q1" stroke-dashoffset="366" d="M0 437.5H1122.3"/></g></g>
<g fill="#008000" stroke="#008000"><path stroke="none" d="M231 456H1690.0V461H231Z"/><g transform="translate(231 0) scale(1.3 1)"><path class="q4" stroke-dashoffset="186" d="M0 455.5H1122.3"/><path class="q9" stroke-dashoffset="196" d="M0 461.5H1122.3"/><path class="q1" stroke-dashoffset="196" d="M0 462.5H1122.3"/></g></g>
<g fill="#000000" stroke="#000000"><path stroke="none" d="M231 481H1690.0V486H231ZM1645.0 481.0H1646.7V484.4H1645.0ZM1646.7 481.0H1648.2V484.1H1646.7ZM1648.2 480.7H1649.8V484.5H1648.2ZM1649.8 481.0H1651.0V485.5H1649.8ZM1651.0 481.3H1652.4V484.6H1651.0ZM1652.4 480.5H1653.6V484.5H1652.4ZM1653.6 481.4H1655.5V487.8H1653.6ZM1655.5 480.7H1656.6V484.3H1655.5ZM1656.6 479.4H1657.0V484.6H1656.6ZM1657.0 475.3H1658.5V491.6H1657.0ZM1658.5 477.6H1660.0V491.6H1658.5ZM1660.0 472.6H1661.8V495.8H1660.0ZM1661.8 476.6H1662.6V489.6H1661.8ZM1662.6 479.1H1664.0V490.1H1662.6ZM1664.2 466.6H1665.5V502.6H1664.2ZM1665.5 463.6H1667.0V501.6H1665.5ZM1667.0 460.1H1668.4V505.8H1667.0ZM1668.4 470.6H1668.9V494.6H1668.4ZM1678.0 478.2H1679.0V489.1H1678.0ZM1679.0 474.8H1680.2V491.6H1679.0ZM1680.2 477.1H1681.5V493.6H1680.2ZM1681.5 478.0H1683.0V490.1H1681.5ZM1683.0 477.0H1684.2V489.8H1683.0ZM1684.2 478.2H1685.4V489.2H1684.2ZM1685.4 479.6H1686.6V488.2H1685.4ZM1686.6 477.3H1687.8V488.0H1686.6ZM1687.8 479.6H1690.0V487.1H1687.8Z"/><g transform="translate(231 0) scale(1.3 1)"><path class="q7" stroke-dashoffset="592" d="M0 480.5H1122.3"/><path class="q1" stroke-dashoffset="592" d="M0 479.5H1122.3"/><path class="q16" stroke-dashoffset="222" d="M0 486.5H1122.3"/><path class="q6" stroke-dashoffset="222" d="M0 487.5H1122.3"/><path class="q1" stroke-dashoffset="222" d="M0 488.5H1122.3"/></g></g>
<g fill="#ff0000" stroke="#ff0000"><path stroke="none" d="M231 506H1690.0V511H231ZM231.0 506.3H232.5V511.0H231.0ZM232.5 504.9H234.2V513.7H232.5ZM234.2 506.2H235.9V509.9H234.2ZM235.9 504.0H237.7V510.0H235.9ZM237.7 505.8H239.0V509.5H237.7ZM239.0 505.6H240.9V512.2H239.0ZM240.9 504.8H242.1V511.2H240.9ZM242.1 505.3H243.2V509.9H242.1ZM243.2 505.0H244.2V512.8H243.2ZM244.2 504.7H245.4V510.7H244.2ZM245.4 505.4H246.9V509.8H245.4ZM246.9 502.4H248.2V511.4H246.9ZM248.2 505.3H249.6V512.0H248.2ZM249.6 502.2H250.7V510.9H249.6ZM250.7 504.8H251.8V510.2H250.7ZM251.8 505.1H252.8V509.8H251.8ZM252.8 504.4H253.9V510.7H252.8ZM253.9 504.6H255.2V511.7H253.9ZM255.2 505.4H256.6V511.5H255.2ZM256.6 505.8H257.8V509.9H256.6ZM257.8 505.7H259.0V510.5H257.8ZM362.0 502.7H363.3V516.2H362.0ZM363.3 503.1H364.5V511.2H363.3ZM364.5 498.9H366.0V510.6H364.5ZM366.0 505.4H367.0V510.4H366.0ZM620.0 504.8H621.3V510.5H620.0ZM621.3 504.4H622.5V510.1H621.3ZM622.5 505.4H623.5V513.7H622.5ZM623.5 503.4H624.8V510.9H623.5ZM624.8 505.1H626.7V510.4H624.8ZM626.7 505.5H627.9V512.4H626.7ZM627.9 503.4H629.4V511.0H627.9ZM629.4 503.5H631.2V509.7H629.4ZM631.2 502.7H632.8V510.1H631.2ZM632.8 505.3H633.9V509.3H632.8ZM633.9 505.4H635.0V510.3H633.9ZM528.0 503.7H529.6V508.9H528.0ZM529.6 505.5H531.1V509.5H529.6ZM531.1 505.4H532.5V510.0H531.1ZM532.5 506.2H533.5V511.7H532.5ZM533.5 506.3H535.3V508.9H533.5ZM535.3 505.5H536.0V509.0H535.3ZM860.0 504.2H861.4V510.2H860.0ZM861.4 500.0H863.1V513.4H861.4ZM863.1 501.2H864.8V510.4H863.1ZM864.8 504.3H866.0V514.3H864.8ZM899.0 504.2H900.9V509.4H899.0ZM900.9 505.9H902.3V511.1H900.9ZM902.3 504.0H903.6V513.1H902.3ZM903.6 505.0H905.2V509.7H903.6ZM905.2 501.7H906.5V510.1H905.2ZM906.5 504.2H907.6V512.1H906.5ZM907.6 504.8H909.0V509.8H907.6ZM909.0 503.7H910.8V509.7H909.0ZM928.0 503.7H929.9V510.7H928.0ZM929.9 505.4H931.5V512.0H929.9ZM931.5 506.2H933.4V509.6H931.5ZM933.4 506.7H934.0V512.7H933.4ZM1236.0 506.4H1237.0V510.6H1236.0ZM1237.0 505.3H1238.6V515.1H1237.0ZM1238.6 502.7H1240.1V513.2H1238.6ZM1240.1 506.4H1241.0V512.7H1240.1ZM1273.0 500.2H1274.4V513.6H1273.0ZM1274.4 501.7H1275.9V515.9H1274.4ZM1275.9 502.5H1277.8V510.7H1275.9ZM1466.0 504.9H1467.5V512.5H1466.0ZM1467.5 505.6H1468.5V510.6H1467.5ZM1468.5 502.8H1470.3V514.7H1468.5ZM1470.3 502.2H1471.8V512.7H1470.3ZM1471.8 504.7H1473.0V509.7H1471.8ZM248.2 503.0L249.0 502.2L249.8 503.0L249.8 510.9L249.0 511.7L248.2 510.9ZM252.0 504.5L252.8 503.7L253.6 504.5L253.6 515.4L252.8 516.2L252.0 515.4ZM627.0 497.0L627.8 496.2L628.6 497.0L628.6 513.5L627.8 514.3L627.0 513.5ZM600.8 505.5L601.6 504.7L602.4 505.5L602.4 511.9L601.6 512.7L600.8 511.9ZM902.2 501.5L903.0 500.7L903.8 501.5L903.8 511.9L903.0 512.7L902.2 511.9ZM968.7 504.2L969.5 503.4L970.3 504.2L970.3 522.9L969.5 523.7L968.7 522.9ZM1154.2 503.5L1155.0 502.7L1155.8 503.5L1155.8 509.9L1155.0 510.7L1154.2 509.9ZM1434.7 505.5L1435.5 504.7L1436.3 505.5L1436.3 516.2L1435.5 517.0L1434.7 516.2ZM1564.2 505.5L1565.0 504.7L1565.8 505.5L1565.8 511.9L1565.0 512.7L1564.2 511.9Z"/><g transform="translate(231 0) scale(1.3 1)"><path class="q9" stroke-dashoffset="204" d="M0 505.5H1122.3"/><path class="q1" stroke-dashoffset="204" d="M0 504.5H1122.3"/><path class="q11" stroke-dashoffset="467" d="M0 511.5H1122.3"/><path class="q3" stroke-dashoffset="467" d="M0 512.5H1122.3"/></g></g>
<g fill="#0000ff" stroke="#0000ff"><path stroke="none" d="M231 532H1690.0V536H231ZM303.0 526.6H304.8V538.2H303.0ZM304.8 529.4H306.5V537.4H304.8ZM306.5 528.0H307.7V536.0H306.5ZM375.5 527.8H377.1V533.8H375.5ZM377.1 530.2H378.2V536.3H377.1ZM378.2 529.9H379.4V534.6H378.2ZM379.4 530.3H380.5V533.9H379.4ZM703.5 531.1H705.2V535.5H703.5ZM705.2 526.6H706.5V535.8H705.2ZM706.5 530.8H708.1V539.3H706.5ZM708.1 530.7H709.0V536.4H708.1ZM785.0 523.9H786.7V534.4H785.0ZM786.7 528.4H788.3V536.7H786.7ZM788.3 525.1H789.5V535.1H788.3ZM789.5 530.7H790.5V537.4H789.5ZM1387.5 527.1H1389.3V534.3H1387.5ZM1389.3 524.8H1390.4V535.3H1389.3ZM1390.4 530.4H1391.8V537.8H1390.4ZM1460.0 528.5H1461.4V535.8H1460.0ZM1461.4 524.0H1462.5V539.1H1461.4ZM1462.5 527.9H1464.1V540.9H1462.5ZM1464.1 530.2H1465.5V542.4H1464.1ZM334.8 530.6L335.6 529.8L336.4 530.6L336.4 541.2L335.6 542.0L334.8 541.2ZM344.2 530.1L345.0 529.3L345.8 530.1L345.8 536.5L345.0 537.3L344.2 536.5ZM411.9 530.6L412.7 529.8L413.5 530.6L413.5 537.4L412.7 538.2L411.9 537.4ZM645.1 530.6L645.9 529.8L646.7 530.6L646.7 543.5L645.9 544.3L645.1 543.5ZM677.4 524.7L678.6 523.9L679.9 524.7L679.9 547.0L678.6 547.8L677.4 547.0ZM776.1 528.6L776.9 527.8L777.7 528.6L777.7 543.0L776.9 543.8L776.1 543.0ZM866.7 529.0L867.5 528.2L868.3 529.0L868.3 541.2L867.5 542.0L866.7 541.2ZM887.9 529.6L888.7 528.8L889.5 529.6L889.5 539.7L888.7 540.5L887.9 539.7ZM612.2 529.1L613.0 528.3L613.8 529.1L613.8 535.0L613.0 535.8L612.2 535.0ZM1118.2 530.6L1119.0 529.8L1119.8 530.6L1119.8 544.4L1119.0 545.2L1118.2 544.4ZM1161.2 528.8L1162.0 528.0L1162.8 528.8L1162.8 546.3L1162.0 547.1L1161.2 546.3ZM1168.0 528.8L1168.8 528.0L1169.5 528.8L1169.5 536.0L1168.8 536.8L1168.0 536.0ZM1389.0 519.8L1389.8 519.0L1390.6 519.8L1390.6 536.0L1389.8 536.8L1389.0 536.0ZM1466.8 528.6L1467.6 527.8L1468.4 528.6L1468.4 536.0L1467.6 536.8L1466.8 536.0Z"/><g transform="translate(231 0) scale(1.3 1)"><path class="q16" stroke-dashoffset="617" d="M0 531.5H1122.3"/><path class="q6" stroke-dashoffset="617" d="M0 530.5H1122.3"/><path class="q1" stroke-dashoffset="617" d="M0 529.5H1122.3"/><path class="q11" stroke-dashoffset="50" d="M0 536.5H1122.3"/><path class="q3" stroke-dashoffset="50" d="M0 537.5H1122.3"/></g></g>
<g fill="#008000" stroke="#008000"><path stroke="none" d="M231 557H1690.0V561H231ZM935.0 556.3H936.1V565.1H935.0ZM936.1 556.4H937.7V560.1H936.1ZM937.7 554.8H938.9V561.4H937.7ZM938.9 552.9H940.0V561.1H938.9ZM940.0 554.6H941.6V560.2H940.0ZM941.6 556.7H943.0V560.4H941.6ZM943.0 556.9H944.8V559.0H943.0ZM944.8 555.6H946.2V561.1H944.8ZM946.2 556.3H947.4V561.7H946.2ZM947.4 554.5H948.6V559.9H947.4ZM948.6 555.7H950.1V561.6H948.6ZM950.1 556.6H951.3V562.4H950.1ZM951.3 556.7H952.4V561.1H951.3ZM952.4 553.9H953.5V560.0H952.4ZM953.5 555.4H954.8V559.0H953.5ZM873.2 554.4L874.0 553.6L874.8 554.4L874.8 560.1L874.0 560.9L873.2 560.1ZM545.6 554.7L546.4 553.9L547.2 554.7L547.2 560.1L546.4 560.9L545.6 560.1ZM1510.1 553.7L1510.9 552.9L1511.7 553.7L1511.7 569.1L1510.9 569.9L1510.1 569.1ZM1270.2 554.7L1271.0 553.9L1271.8 554.7L1271.8 560.1L1271.0 560.9L1270.2 560.1Z"/><g transform="translate(231 0) scale(1.3 1)"><path class="q12" stroke-dashoffset="39" d="M0 556.5H1122.3"/><path class="q3" stroke-dashoffset="39" d="M0 555.5H1122.3"/><path class="q15" stroke-dashoffset="2" d="M0 561.5H1122.3"/><path class="q5" stroke-dashoffset="2" d="M0 562.5H1122.3"/></g></g>
<g fill="#000000" stroke="#000000"><path stroke="none" d="M231 582H1690.0V586H231ZM306.0 581.6H307.5V585.2H306.0ZM307.5 581.6H309.2V585.3H307.5ZM309.2 579.1H310.3V588.1H309.2ZM310.3 579.9H312.2V585.6H310.3ZM312.2 580.3H313.3V589.6H312.2ZM313.3 578.5H314.9V586.4H313.3ZM689.0 580.2H690.8V585.1H689.0ZM690.8 581.0H692.7V586.3H690.8ZM692.7 576.1H693.9V586.4H692.7ZM693.9 580.6H695.7V586.9H693.9ZM695.7 580.5H696.9V589.0H695.7ZM696.9 579.8H698.5V587.1H696.9ZM698.5 580.8H699.9V586.0H698.5ZM699.9 581.0H700.9V587.9H699.9ZM700.9 580.9H702.6V584.7H700.9ZM702.6 581.6H703.0V590.1H702.6ZM1029.0 578.3H1030.5V586.0H1029.0ZM1030.5 577.9H1031.6V589.3H1030.5ZM1031.6 578.6H1033.2V588.5H1031.6ZM1033.2 579.5H1034.7V587.1H1033.2ZM1034.7 576.4H1035.0V584.5H1034.7ZM1377.0 580.8H1378.6V589.3H1377.0ZM1378.6 580.2H1380.0V585.2H1378.6ZM1380.0 581.3H1381.8V585.4H1380.0ZM1381.8 581.6H1383.1V589.0H1381.8ZM1383.1 580.0H1385.0V586.6H1383.1ZM1385.0 579.1H1386.0V584.8H1385.0ZM1206.0 579.0H1210.0V587.4H1206.0ZM1210.0 575.0H1212.0V587.4H1210.0ZM1212.0 577.0H1212.7V587.4H1212.0ZM1212.7 577.0H1214.7V590.7H1212.7ZM1219.3 580.1H1221.3V588.7H1219.3ZM1220.0 579.1H1222.0V587.1H1220.0ZM1222.0 579.1H1222.7V590.4H1222.0ZM1222.7 575.2H1224.0V590.4H1222.7ZM1224.0 575.9H1226.0V587.6H1224.0ZM1226.3 578.2H1228.0V589.7H1226.3ZM312.9 579.9L313.7 579.1L314.5 579.9L314.5 592.7L313.7 593.5L312.9 592.7ZM307.2 579.9L308.0 579.1L308.8 579.9L308.8 588.8L308.0 589.6L307.2 588.8ZM445.6 577.0L446.6 576.2L447.6 577.0L447.6 585.3L446.6 586.1L445.6 585.3ZM689.7 578.9L690.5 578.1L691.3 578.9L691.3 592.0L690.5 592.8L689.7 592.0ZM697.2 576.9L698.0 576.1L698.8 576.9L698.8 592.0L698.0 592.8L697.2 592.0ZM848.0 572.4L849.0 571.6L850.0 572.4L850.0 588.1L849.0 588.9L848.0 588.1ZM948.8 580.9L949.6 580.1L950.4 580.9L950.4 592.7L949.6 593.5L948.8 592.7ZM604.2 580.9L605.0 580.1L605.8 580.9L605.8 587.3L605.0 588.1L604.2 587.3ZM1417.0 569.4L1418.0 568.6L1419.0 569.4L1419.0 585.3L1418.0 586.1L1417.0 585.3ZM1425.5 558.9L1426.6 558.1L1427.7 558.9L1427.7 586.8L1426.6 587.6L1425.5 586.8ZM1482.2 578.9L1483.0 578.1L1483.8 578.9L1483.8 585.3L1483.0 586.1L1482.2 585.3ZM1584.0 580.9L1584.8 580.1L1585.6 580.9L1585.6 586.8L1584.8 587.6L1584.0 586.8ZM1677.7 580.9L1678.5 580.1L1679.3 580.9L1679.3 587.8L1678.5 588.6L1677.7 587.8Z"/><g transform="translate(231 0) scale(1.3 1)"><path class="q16" stroke-dashoffset="322" d="M0 581.5H1122.3"/><path class="q6" stroke-dashoffset="322" d="M0 580.5H1122.3"/><path class="q1" stroke-dashoffset="322" d="M0 579.5H1122.3"/><path class="q8" stroke-dashoffset="136" d="M0 586.5H1122.3"/><path class="q1" stroke-dashoffset="136" d="M0 587.5H1122.3"/></g></g>
<g fill="#ff0000" stroke="#ff0000"><path stroke="none" d="M231 607H1690.0V612H231ZM318.5 605.8H319.8V615.2H318.5ZM319.8 604.9H321.3V610.9H319.8ZM321.3 605.7H322.7V613.0H321.3ZM322.7 603.7H323.5V612.8H322.7ZM361.0 604.7H362.1V609.6H361.0ZM362.1 601.6H364.0V612.8H362.1ZM364.0 603.6H365.6V609.7H364.0ZM365.6 604.3H367.0V610.3H365.6ZM367.0 603.9H368.1V610.4H367.0ZM368.1 605.7H370.0V610.3H368.1ZM370.0 606.4H371.6V609.4H370.0ZM371.6 604.9H372.0V610.3H371.6ZM523.0 603.5H524.3V614.7H523.0ZM524.3 606.7H525.3V612.4H524.3ZM525.3 604.8H526.5V610.6H525.3ZM526.5 604.9H528.1V612.6H526.5ZM528.1 605.7H529.3V610.9H528.1ZM529.3 606.3H530.5V613.2H529.3ZM530.5 606.5H531.7V611.7H530.5ZM632.0 605.2H633.7V610.4H632.0ZM633.7 604.2H635.5V611.2H633.7ZM635.5 606.7H636.0V612.2H635.5ZM1007.5 602.2H1009.3V610.7H1007.5ZM1009.3 606.0H1010.3V612.5H1009.3ZM1010.3 604.2H1012.0V610.3H1010.3ZM1012.0 605.6H1013.4V613.9H1012.0ZM1084.0 605.4H1085.0V609.4H1084.0ZM1085.0 606.5H1086.6V609.8H1085.0ZM1086.6 606.6H1088.0V610.6H1086.6ZM1088.0 603.7H1089.0V612.7H1088.0ZM1125.0 602.2H1126.7V610.6H1125.0ZM1126.7 603.1H1128.2V612.7H1126.7ZM1128.2 602.7H1129.5V611.5H1128.2ZM1129.5 605.9H1130.6V611.7H1129.5ZM1130.6 606.1H1131.6V611.4H1130.6ZM1131.6 603.4H1133.2V611.1H1131.6ZM1133.2 604.0H1134.3V609.4H1133.2ZM1134.3 605.3H1135.0V609.2H1134.3ZM1523.0 606.8H1524.2V610.7H1523.0ZM1524.2 605.6H1525.5V612.0H1524.2ZM1525.5 606.6H1526.7V612.8H1525.5ZM1526.7 604.5H1528.3V609.9H1526.7ZM1528.3 603.7H1529.0V609.9H1528.3ZM288.6 604.4L289.4 603.6L290.2 604.4L290.2 614.3L289.4 615.1L288.6 614.3ZM694.8 603.2L696.0 602.4L697.2 603.2L697.2 612.4L696.0 613.2L694.8 612.4Z"/><g transform="translate(231 0) scale(1.3 1)"><path class="q15" stroke-dashoffset="667" d="M0 606.5H1122.3"/><path class="q5" stroke-dashoffset="667" d="M0 605.5H1122.3"/><path class="q6" stroke-dashoffset="697" d="M0 612.5H1122.3"/><path class="q1" stroke-dashoffset="697" d="M0 613.5H1122.3"/></g></g>
<g fill="#0000ff" stroke="#0000ff"><path stroke="none" d="M231 631H1690.0V636H231ZM720.0 631.33H970.0V636.61H720.0ZM443.5 627.4H444.9V635.4H443.5ZM444.9 630.4H446.2V636.8H444.9ZM446.2 628.9H447.4V636.1H446.2ZM447.4 629.0H448.5V638.4H447.4ZM448.5 628.2H450.3V635.1H448.5ZM450.3 629.8H451.5V639.0H450.3ZM944.0 631.6H945.7V634.9H944.0ZM945.7 631.1H947.3V636.7H945.7ZM947.3 630.2H948.4V634.9H947.3ZM948.4 631.5H949.7V635.8H948.4ZM949.7 630.8H951.0V635.9H949.7ZM951.0 630.3H952.2V637.7H951.0ZM952.2 630.1H953.7V636.3H952.2ZM953.7 628.8H955.6V638.3H953.7ZM955.6 630.7H957.0V635.1H955.6ZM957.0 628.8H958.3V635.3H957.0ZM958.3 628.3H959.4V636.6H958.3ZM959.4 629.5H960.7V635.3H959.4ZM960.7 631.9H962.3V634.9H960.7ZM962.3 631.2H963.6V636.9H962.3ZM963.6 630.4H965.2V635.6H963.6ZM965.2 630.5H966.0V634.7H965.2ZM395.7 631.1L396.5 630.3L397.3 631.1L397.3 637.5L396.5 638.3L395.7 637.5ZM830.1 631.1L830.9 630.3L831.7 631.1L831.7 638.2L830.9 639.0L830.1 638.2ZM959.0 628.1L959.8 627.3L960.6 628.1L960.6 635.5L959.8 636.3L959.0 635.5Z"/><g transform="translate(231 0) scale(1.3 1)"><path class="q6" stroke-dashoffset="598" d="M0 630.5H1122.3"/><path class="q1" stroke-dashoffset="598" d="M0 629.5H1122.3"/><path class="q16" stroke-dashoffset="385" d="M0 636.5H1122.3"/><path class="q6" stroke-dashoffset="385" d="M0 637.5H1122.3"/><path class="q1" stroke-dashoffset="385" d="M0 638.5H1122.3"/></g></g>
<g fill="#008000" stroke="#008000"><path stroke="none" d="M231 657H1690.0V661H231ZM231.0 657.1H232.9V661.3H231.0ZM232.9 655.3H234.6V661.8H232.9ZM234.6 657.0H236.1V661.1H234.6ZM236.1 656.7H238.0V662.6H236.1ZM238.0 657.0H239.9V660.9H238.0ZM239.9 657.0H241.5V660.0H239.9ZM241.5 656.8H242.7V659.9H241.5ZM242.7 657.1H243.9V662.9H242.7ZM243.9 654.4H245.1V661.4H243.9ZM245.1 656.6H246.0V660.9H245.1ZM326.0 650.6H327.9V662.1H326.0ZM327.9 653.6H329.2V663.3H327.9ZM329.2 655.6H330.6V662.7H329.2ZM330.6 655.5H331.5V659.7H330.6ZM245.0 656.2L245.8 655.4L246.6 656.2L246.6 664.4L245.8 665.2L245.0 664.4ZM1268.7 652.6L1269.5 651.8L1270.3 652.6L1270.3 660.6L1269.5 661.4L1268.7 660.6ZM1564.2 656.2L1565.0 655.4L1565.8 656.2L1565.8 662.6L1565.0 663.4L1564.2 662.6Z"/><g transform="translate(231 0) scale(1.3 1)"><path class="q12" stroke-dashoffset="23" d="M0 656.5H1122.3"/><path class="q3" stroke-dashoffset="23" d="M0 655.5H1122.3"/><path class="q15" stroke-dashoffset="528" d="M0 661.5H1122.3"/><path class="q5" stroke-dashoffset="528" d="M0 662.5H1122.3"/><path class="q1" stroke-dashoffset="528" d="M0 663.5H1122.3"/></g></g>
<g fill="#000000" stroke="#000000"><path stroke="none" d="M231 682H1690.0V686H231ZM1104.0 680.9H1105.8V685.8H1104.0ZM1105.8 679.1H1106.9V686.2H1105.8ZM1106.9 681.8H1107.9V685.6H1106.9ZM1107.9 682.0H1109.7V685.5H1107.9ZM1109.7 682.0H1111.2V685.6H1109.7ZM1111.2 681.2H1112.9V686.8H1111.2ZM1112.9 680.8H1114.1V688.1H1112.9ZM1114.1 681.1H1115.7V684.7H1114.1ZM1115.7 682.4H1116.0V685.9H1115.7ZM1348.0 680.7H1349.2V686.4H1348.0ZM1349.2 681.1H1350.4V684.9H1349.2ZM1350.4 682.2H1351.8V685.8H1350.4ZM1351.8 682.2H1353.1V685.2H1351.8ZM1353.1 681.6H1354.3V686.7H1353.1ZM1354.3 681.9H1355.8V685.2H1354.3ZM1355.8 681.0H1357.1V686.0H1355.8ZM1357.1 679.8H1358.9V686.5H1357.1ZM1358.9 681.0H1360.8V686.8H1358.9ZM1360.8 681.3H1362.4V686.1H1360.8ZM1362.4 681.6H1364.0V688.1H1362.4ZM1364.0 680.6H1365.7V686.1H1364.0ZM1365.7 678.6H1367.4V688.1H1365.7ZM1367.4 681.7H1368.4V687.7H1367.4ZM1368.4 681.9H1370.1V685.6H1368.4ZM1370.1 681.8H1371.2V685.1H1370.1ZM1371.2 682.2H1372.2V685.9H1371.2ZM1372.2 682.3H1373.7V684.9H1372.2ZM1373.7 681.5H1374.8V686.4H1373.7ZM1374.8 680.7H1376.0V688.6H1374.8ZM1153.8 677.2L1155.0 676.4L1156.2 677.2L1156.2 688.8L1155.0 689.6L1153.8 688.8ZM1366.0 679.4L1366.8 678.6L1367.6 679.4L1367.6 695.8L1366.8 696.6L1366.0 695.8ZM1371.2 678.4L1372.0 677.6L1372.8 678.4L1372.8 686.8L1372.0 687.6L1371.2 686.8ZM1632.8 680.9L1633.6 680.1L1634.4 680.9L1634.4 686.8L1633.6 687.6L1632.8 686.8Z"/><g transform="translate(231 0) scale(1.3 1)"><path class="q16" stroke-dashoffset="379" d="M0 681.5H1122.3"/><path class="q6" stroke-dashoffset="379" d="M0 680.5H1122.3"/><path class="q1" stroke-dashoffset="379" d="M0 679.5H1122.3"/><path class="q11" stroke-dashoffset="604" d="M0 686.5H1122.3"/><path class="q3" stroke-dashoffset="604" d="M0 687.5H1122.3"/></g></g>
<g fill="#ff0000" stroke="#ff0000"><path stroke="none" d="M231 707H1690.0V712H231ZM598.0 707.6H599.0V714.7H598.0ZM599.0 705.5H600.4V711.4H599.0ZM600.4 704.9H601.4V711.7H600.4ZM601.4 706.8H602.7V711.3H601.4ZM602.7 704.2H604.3V713.0H602.7ZM600.6 705.3L601.6 704.5L602.6 705.3L602.6 719.1L601.6 719.9L600.6 719.1ZM1630.8 704.2L1631.6 703.4L1632.4 704.2L1632.4 710.9L1631.6 711.7L1630.8 710.9Z"/><g transform="translate(231 0) scale(1.3 1)"><path class="q14" stroke-dashoffset="470" d="M0 706.5H1122.3"/><path class="q4" stroke-dashoffset="470" d="M0 705.5H1122.3"/><path class="q7" stroke-dashoffset="521" d="M0 712.5H1122.3"/><path class="q1" stroke-dashoffset="521" d="M0 713.5H1122.3"/></g></g>
<g fill="#0000ff" stroke="#0000ff"><path stroke="none" d="M231 732H1690.0V737H231ZM489.0 731.74H1020.0V737.02H489.0ZM489.0 730.8H490.1V737.8H489.0ZM490.1 730.7H491.4V735.0H490.1ZM491.4 729.4H492.6V735.9H491.4ZM492.6 731.4H494.4V735.4H492.6ZM494.4 730.1H495.5V736.0H494.4ZM495.5 727.8H497.3V735.5H495.5ZM497.3 731.2H498.0V734.8H497.3ZM589.5 732.6H590.6V736.9H589.5ZM590.6 731.4H592.4V737.9H590.6ZM592.4 728.8H593.9V740.4H592.4ZM593.9 731.2H594.5V735.7H593.9ZM933.0 731.4H934.5V736.5H933.0ZM934.5 731.7H936.0V739.8H934.5ZM936.0 728.4H937.7V738.4H936.0ZM937.7 730.6H939.0V736.2H937.7ZM939.0 732.2H940.0V738.1H939.0ZM940.0 731.6H941.0V735.6H940.0ZM1290.0 729.5H1291.1V735.6H1290.0ZM1291.1 730.5H1292.8V736.8H1291.1ZM1292.8 728.4H1294.3V742.4H1292.8ZM1294.3 729.4H1295.9V736.8H1294.3ZM1295.9 731.3H1297.8V739.5H1295.9ZM1297.8 729.7H1298.9V737.0H1297.8ZM1298.9 729.9H1300.7V737.7H1298.9ZM1300.7 728.0H1302.1V739.9H1300.7ZM1302.1 726.5H1303.2V738.6H1302.1ZM1303.2 727.9H1304.4V740.7H1303.2ZM1304.4 729.9H1306.1V739.5H1304.4ZM1306.1 726.0H1307.4V740.6H1306.1ZM1307.4 730.9H1309.2V736.5H1307.4ZM1309.2 731.3H1311.0V738.2H1309.2ZM965.0 730.1H967.3V738.5H965.0ZM979.0 727.6H981.1V741.4H979.0ZM981.1 728.8H982.2V738.3H981.1ZM982.2 729.8H983.7V737.4H982.2ZM984.8 729.0H986.0V738.8H984.8ZM986.0 730.0H987.7V738.4H986.0ZM993.5 730.0H995.0V739.9H993.5ZM995.0 728.2H996.0V738.8H995.0ZM996.0 727.4H997.2V738.0H996.0ZM1003.8 730.6H1005.5V739.9H1003.8ZM1005.5 730.0H1007.0V739.9H1005.5ZM1007.0 729.0H1009.2V738.0H1007.0ZM1014.7 727.2H1016.9V738.7H1014.7ZM1023.5 730.1H1025.0V737.0H1023.5ZM496.2 727.7L497.0 726.9L497.8 727.7L497.8 736.0L497.0 736.8L496.2 736.0ZM524.8 729.6L525.6 728.8L526.4 729.6L526.4 741.5L525.6 742.3L524.8 741.5ZM546.8 729.2L547.6 728.4L548.4 729.2L548.4 736.0L547.6 736.8L546.8 736.0ZM562.2 729.6L563.0 728.8L563.8 729.6L563.8 739.6L563.0 740.4L562.2 739.6ZM622.2 683.0L623.5 682.2L624.8 683.0L624.8 736.0L623.5 736.8L622.2 736.0ZM648.9 729.2L649.7 728.4L650.5 729.2L650.5 738.0L649.7 738.8L648.9 738.0ZM683.6 731.6L684.4 730.8L685.2 731.6L685.2 740.3L684.4 741.1L683.6 740.3ZM712.5 731.6L713.3 730.8L714.1 731.6L714.1 740.3L713.3 741.1L712.5 740.3ZM747.2 727.7L748.0 726.9L748.8 727.7L748.8 736.0L748.0 736.8L747.2 736.0ZM758.8 731.6L759.6 730.8L760.4 731.6L760.4 741.5L759.6 742.3L758.8 741.5ZM781.2 729.2L782.0 728.4L782.8 729.2L782.8 736.0L782.0 736.8L781.2 736.0ZM807.0 729.2L807.8 728.4L808.6 729.2L808.6 736.0L807.8 736.8L807.0 736.0ZM820.4 729.2L821.2 728.4L822.0 729.2L822.0 738.0L821.2 738.8L820.4 738.0ZM860.2 723.4L861.0 722.6L861.8 723.4L861.8 739.6L861.0 740.4L860.2 739.6ZM912.9 729.6L913.7 728.8L914.5 729.6L914.5 736.0L913.7 736.8L912.9 736.0ZM945.7 731.6L946.5 730.8L947.3 731.6L947.3 739.6L946.5 740.4L945.7 739.6ZM1050.7 730.1L1051.5 729.3L1052.3 730.1L1052.3 737.0L1051.5 737.8L1050.7 737.0Z"/><g transform="translate(231 0) scale(1.3 1)"><path class="q11" stroke-dashoffset="85" d="M0 731.5H1122.3"/><path class="q3" stroke-dashoffset="85" d="M0 730.5H1122.3"/><path class="q10" stroke-dashoffset="209" d="M0 737.5H1122.3"/><path class="q2" stroke-dashoffset="209" d="M0 738.5H1122.3"/></g></g>
<g fill="#008000" stroke="#008000"><path stroke="none" d="M231 757H1690.0V761H231ZM290.0 753.9H291.3V761.6H290.0ZM291.3 756.1H292.4V762.1H291.3ZM292.4 755.8H294.0V764.3H292.4ZM294.0 757.0H295.4V760.8H294.0ZM295.4 756.0H296.5V760.3H295.4ZM1306.0 756.0H1307.9V760.8H1306.0ZM1307.9 754.5H1308.9V761.6H1307.9ZM1308.9 755.4H1310.6V763.0H1308.9ZM1310.6 755.3H1312.1V760.9H1310.6ZM1312.1 756.0H1313.5V760.8H1312.1ZM1313.5 755.3H1315.1V761.0H1313.5ZM1315.1 756.2H1316.9V760.3H1315.1ZM1316.9 757.7H1317.9V760.6H1316.9ZM1528.0 756.8H1529.5V762.4H1528.0ZM1529.5 757.5H1531.1V761.0H1529.5ZM1531.1 756.7H1532.5V765.5H1531.1ZM1532.5 754.5H1533.8V764.9H1532.5ZM1533.8 757.6H1535.3V761.7H1533.8ZM1535.3 757.2H1536.0V760.9H1535.3ZM278.9 756.8L279.7 756.0L280.5 756.8L280.5 764.6L279.7 765.4L278.9 764.6ZM317.5 754.7L318.3 753.9L319.1 754.7L319.1 761.2L318.3 762.0L317.5 761.2ZM1302.7 756.8L1303.5 756.0L1304.3 756.8L1304.3 764.2L1303.5 765.0L1302.7 764.2ZM1308.6 751.0L1309.4 750.2L1310.2 751.0L1310.2 761.2L1309.4 762.0L1308.6 761.2ZM1330.1 753.0L1330.9 752.2L1331.7 753.0L1331.7 761.2L1330.9 762.0L1330.1 761.2ZM1378.9 756.8L1379.7 756.0L1380.5 756.8L1380.5 763.9L1379.7 764.7L1378.9 763.9ZM1384.7 754.2L1385.5 753.4L1386.3 754.2L1386.3 761.2L1385.5 762.0L1384.7 761.2ZM1632.8 756.8L1633.6 756.0L1634.4 756.8L1634.4 763.2L1633.6 764.0L1632.8 763.2Z"/><g transform="translate(231 0) scale(1.3 1)"><path class="q8" stroke-dashoffset="40" d="M0 756.5H1122.3"/><path class="q1" stroke-dashoffset="40" d="M0 755.5H1122.3"/><path class="q17" stroke-dashoffset="210" d="M0 761.5H1122.3"/><path class="q7" stroke-dashoffset="210" d="M0 762.5H1122.3"/><path class="q1" stroke-dashoffset="210" d="M0 763.5H1122.3"/></g></g>
<g fill="#000000" stroke="#000000"><path stroke="none" d="M231 782H1690.0V787H231ZM436.5 782.9H437.5V786.7H436.5ZM437.5 780.1H438.7V786.7H437.5ZM438.7 781.2H439.7V786.2H438.7ZM439.7 782.6H440.8V786.2H439.7ZM440.8 781.1H441.9V789.3H440.8ZM441.9 783.1H443.0V786.2H441.9ZM1509.2 779.3H1511.2V788.7H1509.2ZM1513.0 780.9H1515.0V788.7H1513.0ZM1517.3 780.1H1518.5V787.6H1517.3ZM1519.5 779.3H1521.5V789.1H1519.5ZM1523.0 780.3H1524.8V793.5H1523.0ZM1524.8 780.3H1526.0V788.1H1524.8ZM1528.0 778.1H1529.8V790.1H1528.0ZM1529.8 773.8H1531.8V793.0H1529.8ZM1531.8 778.1H1533.2V790.1H1531.8ZM1533.2 779.1H1534.5V790.6H1533.2ZM1534.5 780.6H1536.0V788.1H1534.5ZM1554.2 761.5H1555.8V801.1H1554.2ZM1555.8 761.5H1556.8V805.1H1555.8ZM1556.8 765.3H1557.5V805.1H1556.8ZM1557.5 765.3H1558.0V790.1H1557.5ZM1560.0 778.3H1561.8V791.0H1560.0ZM1561.8 779.6H1565.0V788.1H1561.8ZM1565.0 779.6H1566.8V797.5H1565.0ZM1567.0 777.0H1569.0V787.7H1567.0ZM378.4 781.9L379.2 781.1L380.0 781.9L380.0 788.3L379.2 789.1L378.4 788.3Z"/><g transform="translate(231 0) scale(1.3 1)"><path class="q8" stroke-dashoffset="729" d="M0 781.5H1122.3"/><path class="q1" stroke-dashoffset="729" d="M0 780.5H1122.3"/><path class="q5" stroke-dashoffset="416" d="M0 787.5H1122.3"/></g></g>
<g fill="#ff0000" stroke="#ff0000"><path stroke="none" d="M231 808H1690.0V812H231Z"/><g transform="translate(231 0) scale(1.3 1)"><path class="q15" stroke-dashoffset="310" d="M0 807.5H1122.3"/><path class="q3" stroke-dashoffset="310" d="M0 806.5H1122.3"/><path class="q7" stroke-dashoffset="77" d="M0 812.5H1122.3"/><path class="q1" stroke-dashoffset="77" d="M0 813.5H1122.3"/></g></g>
<g fill="#0000ff" stroke="#0000ff"><path stroke="none" d="M231 832H1690.0V837H231Z"/><g transform="translate(231 0) scale(1.3 1)"><path class="q3" stroke-dashoffset="515" d="M0 831.5H1122.3"/><path class="q11" stroke-dashoffset="561" d="M0 837.5H1122.3"/><path class="q2" stroke-dashoffset="561" d="M0 838.5H1122.3"/></g></g>
<g fill="#008000" stroke="#008000"><path stroke="none" d="M231 858H1690.0V863H231Z"/><g transform="translate(231 0) scale(1.3 1)"><path class="q10" stroke-dashoffset="357" d="M0 857.5H1122.3"/><path class="q1" stroke-dashoffset="357" d="M0 856.5H1122.3"/><path class="q3" stroke-dashoffset="389" d="M0 863.5H1122.3"/></g></g>
<g fill="#000000" stroke="#000000"><path stroke="none" d="M231 883H1690.0V888H231Z"/><g transform="translate(231 0) scale(1.3 1)"><path class="q7" stroke-dashoffset="118" d="M0 882.5H1122.3"/><path class="q1" stroke-dashoffset="118" d="M0 881.5H1122.3"/><path class="q6" stroke-dashoffset="281" d="M0 888.5H1122.3"/></g></g>
<g fill="#ff0000" stroke="#ff0000"><path stroke="none" d="M231 908H1690.0V913H231Z"/><g transform="translate(231 0) scale(1.3 1)"><path class="q5" stroke-dashoffset="550" d="M0 907.5H1122.3"/><path class="q10" stroke-dashoffset="436" d="M0 913.5H1122.3"/><path class="q1" stroke-dashoffset="436" d="M0 914.5H1122.3"/></g></g>
<g fill="#0000ff" stroke="#0000ff"><path stroke="none" d="M231 933H1690.0V938H231Z"/><g transform="translate(231 0) scale(1.3 1)"><path class="q4" stroke-dashoffset="274" d="M0 932.5H1122.3"/><path class="q13" stroke-dashoffset="430" d="M0 938.5H1122.3"/><path class="q2" stroke-dashoffset="430" d="M0 939.5H1122.3"/></g></g>
<g fill="#008000" stroke="#008000"><path stroke="none" d="M231 959H1690.0V964H231Z"/><g transform="translate(231 0) scale(1.3 1)"><path class="q9" stroke-dashoffset="320" d="M0 958.5H1122.3"/><path class="q1" stroke-dashoffset="320" d="M0 957.5H1122.3"/><path class="q4" stroke-dashoffset="235" d="M0 964.5H1122.3"/></g></g>
<g fill="#000000" stroke="#000000"><path stroke="none" d="M231 983H1690.0V988H231Z"/><g transform="translate(231 0) scale(1.3 1)"><path class="q4" stroke-dashoffset="580" d="M0 982.5H1122.3"/><path class="q11" stroke-dashoffset="135" d="M0 988.5H1122.3"/><path class="q2" stroke-dashoffset="135" d="M0 989.5H1122.3"/></g></g>
<g fill="#ff0000" stroke="#ff0000"><path stroke="none" d="M231 1009H1690.0V1014H231Z"/><g transform="translate(231 0) scale(1.3 1)"><path class="q13" stroke-dashoffset="364" d="M0 1008.5H1122.3"/><path class="q2" stroke-dashoffset="364" d="M0 1007.5H1122.3"/><path class="q4" stroke-dashoffset="413" d="M0 1014.5H1122.3"/></g></g>
<g fill="#0000ff" stroke="#0000ff"><path stroke="none" d="M231 1034H1077.3V1039H231Z"/><g transform="translate(231 0) scale(1.3 1)"><path class="q9" stroke-dashoffset="277" d="M0 1033.5H651.0"/><path class="q1" stroke-dashoffset="277" d="M0 1032.5H651.0"/><path class="q6" stroke-dashoffset="562" d="M0 1039.5H651.0"/><path class="q1" stroke-dashoffset="562" d="M0 1040.5H651.0"/></g></g>
<polygon points="1504.40,423.96 1506.27,429.72 1512.32,429.72 1507.42,433.28 1509.30,439.03 1504.40,435.47 1499.50,439.03 1501.38,433.28 1496.48,429.72 1502.53,429.72" fill="#ffff00" stroke="#ffff00" stroke-width="1.39" stroke-linejoin="bevel"/>
<polygon points="1094.40,675.25 1096.27,681.00 1102.32,681.00 1097.42,684.56 1099.30,690.32 1094.40,686.76 1089.50,690.32 1091.38,684.56 1086.48,681.00 1092.53,681.00" fill="#ffff00" stroke="#ffff00" stroke-width="1.39" stroke-linejoin="bevel"/>
<polygon points="1090.20,1001.91 1092.07,1007.67 1098.12,1007.67 1093.22,1011.23 1095.10,1016.98 1090.20,1013.42 1085.30,1016.98 1087.18,1011.23 1082.28,1007.67 1088.33,1007.67" fill="#ffff00" stroke="#ffff00" stroke-width="1.39" stroke-linejoin="bevel"/>
<g stroke="#000" stroke-width="1.11" fill="none"><rect x="230.5" y="60.5" width="1460.0" height="1020.0"/><path d="M230.5 80.5h-4.86M230.5 105.5h-4.86M230.5 130.5h-4.86M230.5 155.5h-4.86M230.5 181.5h-4.86M230.5 206.5h-4.86M230.5 231.5h-4.86M230.5 256.5h-4.86M230.5 281.5h-4.86M230.5 306.5h-4.86M230.5 331.5h-4.86M230.5 356.5h-4.86M230.5 382.5h-4.86M230.5 407.5h-4.86M230.5 432.5h-4.86M230.5 457.5h-4.86M230.5 482.5h-4.86M230.5 507.5h-4.86M230.5 532.5h-4.86M230.5 557.5h-4.86M230.5 583.5h-4.86M230.5 608.5h-4.86M230.5 633.5h-4.86M230.5 658.5h-4.86M230.5 683.5h-4.86M230.5 708.5h-4.86M230.5 733.5h-4.86M230.5 758.5h-4.86M230.5 784.5h-4.86M230.5 809.5h-4.86M230.5 834.5h-4.86M230.5 859.5h-4.86M230.5 884.5h-4.86M230.5 909.5h-4.86M230.5 934.5h-4.86M230.5 959.5h-4.86M230.5 985.5h-4.86M230.5 1010.5h-4.86M230.5 1035.5h-4.86M230.5 1060.5h-4.86M230.5 1080.5v4.86M595.5 1080.5v4.86M960.5 1080.5v4.86M1325.5 1080.5v4.86M1690.5 1080.5v4.86"/></g>
<g class="t8" text-anchor="end" letter-spacing="-0.18"><text x="219.6" y="83.60">00:00:04</text><text x="219.6" y="108.73">01:00:04</text><text x="219.6" y="133.86">02:00:04</text><text x="219.6" y="158.98">03:00:04</text><text x="219.6" y="184.11">04:00:04</text><text x="219.6" y="209.24">05:00:04</text><text x="219.6" y="234.37">06:00:04</text><text x="219.6" y="259.50">07:00:04</text><text x="219.6" y="284.63">08:00:04</text><text x="219.6" y="309.75">09:00:04</text><text x="219.6" y="334.88">10:00:04</text><text x="219.6" y="360.01">11:00:04</text><text x="219.6" y="385.14">12:00:04</text><text x="219.6" y="410.27">13:00:04</text><text x="219.6" y="435.39">14:00:04</text><text x="219.6" y="460.52">15:00:04</text><text x="219.6" y="485.65">16:00:04</text><text x="219.6" y="510.78">17:00:04</text><text x="219.6" y="535.91">18:00:04</text><text x="219.6" y="561.04">19:00:04</text><text x="219.6" y="586.16">20:00:04</text><text x="219.6" y="611.29">21:00:04</text><text x="219.6" y="636.42">22:00:04</text><text x="219.6" y="661.55">23:00:04</text><text x="219.6" y="686.68">00:00:04</text><text x="219.6" y="711.81">01:00:04</text><text x="219.6" y="736.93">02:00:04</text><text x="219.6" y="762.06">03:00:04</text><text x="219.6" y="787.19">04:00:04</text><text x="219.6" y="812.32">05:00:04</text><text x="219.6" y="837.45">06:00:04</text><text x="219.6" y="862.57">07:00:04</text><text x="219.6" y="887.70">08:00:04</text><text x="219.6" y="912.83">09:00:04</text><text x="219.6" y="937.96">10:00:04</text><text x="219.6" y="963.09">11:00:04</text><text x="219.6" y="988.22">12:00:04</text><text x="219.6" y="1013.34">13:00:04</text><text x="219.6" y="1038.47">14:00:04</text><text x="219.6" y="1063.60">15:00:04</text></g>
<g class="t8" text-anchor="middle"><text x="230.5" y="1098.2">0</text><text x="595.5" y="1098.2">15</text><text x="960.5" y="1098.2">30</text><text x="1325.5" y="1098.2">45</text><text x="1690.5" y="1098.2">60</text><text x="959.8" y="1112.9">time in minutes</text></g>
<path d="M1364.75 465.00Q1427.50 474.30 1496.00 437.00" fill="none" stroke="#000" stroke-width="1.39" stroke-linecap="round"/><rect x="1014.00" y="452.60" width="347.80" height="23.20" rx="4.2" ry="4.2" fill="#fff" fill-opacity="0.6" stroke="#000" stroke-opacity="0.6" stroke-width="1.39"/><text class="t10" x="1017.90" y="468.10">NEAR EAST COAST OF HONSHU, JAPAN, 5.7 mww</text>
<path d="M955.25 649.60Q1024.00 640.30 1086.00 677.50" fill="none" stroke="#000" stroke-width="1.39" stroke-linecap="round"/><rect x="642.85" y="639.85" width="309.55" height="22.85" rx="4.2" ry="4.2" fill="#fff" fill-opacity="0.6" stroke="#000" stroke-opacity="0.6" stroke-width="1.39"/><text class="t10" x="646.90" y="655.35">NEAR COAST OF NORTHERN CALIF., 3.6 mw</text>
<path d="M951.25 976.00Q1027.20 966.50 1081.90 1004.60" fill="none" stroke="#000" stroke-width="1.39" stroke-linecap="round"/><rect x="721.60" y="966.10" width="226.10" height="22.80" rx="4.2" ry="4.2" fill="#fff" fill-opacity="0.6" stroke="#000" stroke-opacity="0.6" stroke-width="1.39"/><text class="t10" x="725.70" y="981.60">NORTHERN CALIFORNIA, 3.3 ml</text>
</svg>
</body></html>
